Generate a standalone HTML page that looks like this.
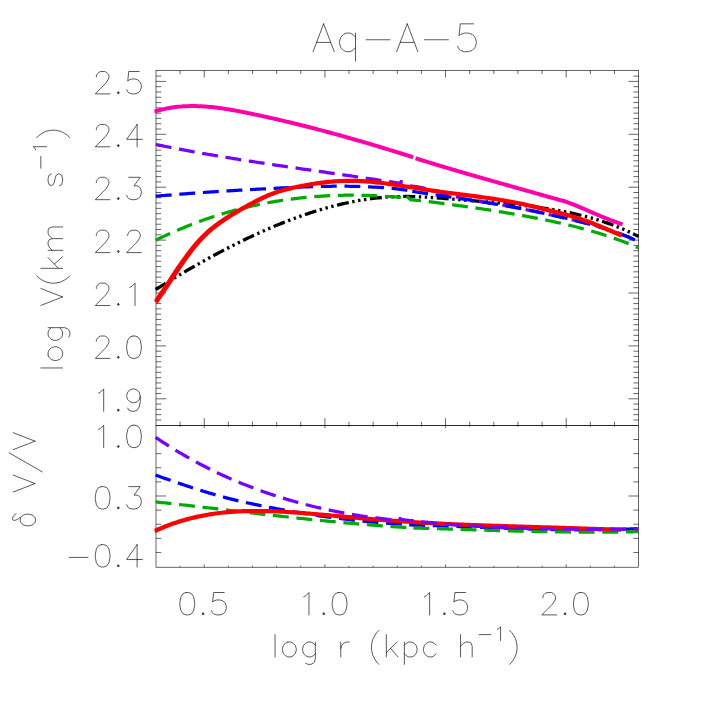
<!DOCTYPE html>
<html><head><meta charset="utf-8"><title>Aq-A-5</title>
<style>
html,body{margin:0;padding:0;background:#fff;}
body{width:709px;height:709px;overflow:hidden;font-family:"Liberation Sans",sans-serif;}
svg{display:block;}
</style></head><body>
<svg width="709" height="709" viewBox="0 0 709 709">
<rect width="709" height="709" fill="#fff"/>
<defs>
<clipPath id="ct"><rect x="154.4" y="70.45" width="484.80" height="354.85"/></clipPath>
<clipPath id="cb"><rect x="154.4" y="425.3" width="484.80" height="141.90"/></clipPath>
</defs>
<rect x="156.0" y="70.45" width="482.60" height="354.85" fill="none" stroke="#000" stroke-width="0.6"/>
<rect x="156.0" y="425.3" width="482.60" height="141.90" fill="none" stroke="#000" stroke-width="0.6"/>
<line x1="180.13" y1="70.45" x2="180.13" y2="74.00" stroke="#000" stroke-width="0.6"/>
<line x1="180.13" y1="425.30" x2="180.13" y2="421.75" stroke="#000" stroke-width="0.6"/>
<line x1="180.13" y1="425.30" x2="180.13" y2="426.75" stroke="#000" stroke-width="0.6"/>
<line x1="180.13" y1="567.20" x2="180.13" y2="565.75" stroke="#000" stroke-width="0.6"/>
<line x1="204.26" y1="70.45" x2="204.26" y2="77.55" stroke="#000" stroke-width="0.6"/>
<line x1="204.26" y1="425.30" x2="204.26" y2="418.20" stroke="#000" stroke-width="0.6"/>
<line x1="204.26" y1="425.30" x2="204.26" y2="428.15" stroke="#000" stroke-width="0.6"/>
<line x1="204.26" y1="567.20" x2="204.26" y2="564.35" stroke="#000" stroke-width="0.6"/>
<line x1="228.39" y1="70.45" x2="228.39" y2="74.00" stroke="#000" stroke-width="0.6"/>
<line x1="228.39" y1="425.30" x2="228.39" y2="421.75" stroke="#000" stroke-width="0.6"/>
<line x1="228.39" y1="425.30" x2="228.39" y2="426.75" stroke="#000" stroke-width="0.6"/>
<line x1="228.39" y1="567.20" x2="228.39" y2="565.75" stroke="#000" stroke-width="0.6"/>
<line x1="252.52" y1="70.45" x2="252.52" y2="74.00" stroke="#000" stroke-width="0.6"/>
<line x1="252.52" y1="425.30" x2="252.52" y2="421.75" stroke="#000" stroke-width="0.6"/>
<line x1="252.52" y1="425.30" x2="252.52" y2="426.75" stroke="#000" stroke-width="0.6"/>
<line x1="252.52" y1="567.20" x2="252.52" y2="565.75" stroke="#000" stroke-width="0.6"/>
<line x1="276.65" y1="70.45" x2="276.65" y2="74.00" stroke="#000" stroke-width="0.6"/>
<line x1="276.65" y1="425.30" x2="276.65" y2="421.75" stroke="#000" stroke-width="0.6"/>
<line x1="276.65" y1="425.30" x2="276.65" y2="426.75" stroke="#000" stroke-width="0.6"/>
<line x1="276.65" y1="567.20" x2="276.65" y2="565.75" stroke="#000" stroke-width="0.6"/>
<line x1="300.78" y1="70.45" x2="300.78" y2="74.00" stroke="#000" stroke-width="0.6"/>
<line x1="300.78" y1="425.30" x2="300.78" y2="421.75" stroke="#000" stroke-width="0.6"/>
<line x1="300.78" y1="425.30" x2="300.78" y2="426.75" stroke="#000" stroke-width="0.6"/>
<line x1="300.78" y1="567.20" x2="300.78" y2="565.75" stroke="#000" stroke-width="0.6"/>
<line x1="324.91" y1="70.45" x2="324.91" y2="77.55" stroke="#000" stroke-width="0.6"/>
<line x1="324.91" y1="425.30" x2="324.91" y2="418.20" stroke="#000" stroke-width="0.6"/>
<line x1="324.91" y1="425.30" x2="324.91" y2="428.15" stroke="#000" stroke-width="0.6"/>
<line x1="324.91" y1="567.20" x2="324.91" y2="564.35" stroke="#000" stroke-width="0.6"/>
<line x1="349.04" y1="70.45" x2="349.04" y2="74.00" stroke="#000" stroke-width="0.6"/>
<line x1="349.04" y1="425.30" x2="349.04" y2="421.75" stroke="#000" stroke-width="0.6"/>
<line x1="349.04" y1="425.30" x2="349.04" y2="426.75" stroke="#000" stroke-width="0.6"/>
<line x1="349.04" y1="567.20" x2="349.04" y2="565.75" stroke="#000" stroke-width="0.6"/>
<line x1="373.17" y1="70.45" x2="373.17" y2="74.00" stroke="#000" stroke-width="0.6"/>
<line x1="373.17" y1="425.30" x2="373.17" y2="421.75" stroke="#000" stroke-width="0.6"/>
<line x1="373.17" y1="425.30" x2="373.17" y2="426.75" stroke="#000" stroke-width="0.6"/>
<line x1="373.17" y1="567.20" x2="373.17" y2="565.75" stroke="#000" stroke-width="0.6"/>
<line x1="397.30" y1="70.45" x2="397.30" y2="74.00" stroke="#000" stroke-width="0.6"/>
<line x1="397.30" y1="425.30" x2="397.30" y2="421.75" stroke="#000" stroke-width="0.6"/>
<line x1="397.30" y1="425.30" x2="397.30" y2="426.75" stroke="#000" stroke-width="0.6"/>
<line x1="397.30" y1="567.20" x2="397.30" y2="565.75" stroke="#000" stroke-width="0.6"/>
<line x1="421.43" y1="70.45" x2="421.43" y2="74.00" stroke="#000" stroke-width="0.6"/>
<line x1="421.43" y1="425.30" x2="421.43" y2="421.75" stroke="#000" stroke-width="0.6"/>
<line x1="421.43" y1="425.30" x2="421.43" y2="426.75" stroke="#000" stroke-width="0.6"/>
<line x1="421.43" y1="567.20" x2="421.43" y2="565.75" stroke="#000" stroke-width="0.6"/>
<line x1="445.56" y1="70.45" x2="445.56" y2="77.55" stroke="#000" stroke-width="0.6"/>
<line x1="445.56" y1="425.30" x2="445.56" y2="418.20" stroke="#000" stroke-width="0.6"/>
<line x1="445.56" y1="425.30" x2="445.56" y2="428.15" stroke="#000" stroke-width="0.6"/>
<line x1="445.56" y1="567.20" x2="445.56" y2="564.35" stroke="#000" stroke-width="0.6"/>
<line x1="469.69" y1="70.45" x2="469.69" y2="74.00" stroke="#000" stroke-width="0.6"/>
<line x1="469.69" y1="425.30" x2="469.69" y2="421.75" stroke="#000" stroke-width="0.6"/>
<line x1="469.69" y1="425.30" x2="469.69" y2="426.75" stroke="#000" stroke-width="0.6"/>
<line x1="469.69" y1="567.20" x2="469.69" y2="565.75" stroke="#000" stroke-width="0.6"/>
<line x1="493.82" y1="70.45" x2="493.82" y2="74.00" stroke="#000" stroke-width="0.6"/>
<line x1="493.82" y1="425.30" x2="493.82" y2="421.75" stroke="#000" stroke-width="0.6"/>
<line x1="493.82" y1="425.30" x2="493.82" y2="426.75" stroke="#000" stroke-width="0.6"/>
<line x1="493.82" y1="567.20" x2="493.82" y2="565.75" stroke="#000" stroke-width="0.6"/>
<line x1="517.95" y1="70.45" x2="517.95" y2="74.00" stroke="#000" stroke-width="0.6"/>
<line x1="517.95" y1="425.30" x2="517.95" y2="421.75" stroke="#000" stroke-width="0.6"/>
<line x1="517.95" y1="425.30" x2="517.95" y2="426.75" stroke="#000" stroke-width="0.6"/>
<line x1="517.95" y1="567.20" x2="517.95" y2="565.75" stroke="#000" stroke-width="0.6"/>
<line x1="542.08" y1="70.45" x2="542.08" y2="74.00" stroke="#000" stroke-width="0.6"/>
<line x1="542.08" y1="425.30" x2="542.08" y2="421.75" stroke="#000" stroke-width="0.6"/>
<line x1="542.08" y1="425.30" x2="542.08" y2="426.75" stroke="#000" stroke-width="0.6"/>
<line x1="542.08" y1="567.20" x2="542.08" y2="565.75" stroke="#000" stroke-width="0.6"/>
<line x1="566.21" y1="70.45" x2="566.21" y2="77.55" stroke="#000" stroke-width="0.6"/>
<line x1="566.21" y1="425.30" x2="566.21" y2="418.20" stroke="#000" stroke-width="0.6"/>
<line x1="566.21" y1="425.30" x2="566.21" y2="428.15" stroke="#000" stroke-width="0.6"/>
<line x1="566.21" y1="567.20" x2="566.21" y2="564.35" stroke="#000" stroke-width="0.6"/>
<line x1="590.34" y1="70.45" x2="590.34" y2="74.00" stroke="#000" stroke-width="0.6"/>
<line x1="590.34" y1="425.30" x2="590.34" y2="421.75" stroke="#000" stroke-width="0.6"/>
<line x1="590.34" y1="425.30" x2="590.34" y2="426.75" stroke="#000" stroke-width="0.6"/>
<line x1="590.34" y1="567.20" x2="590.34" y2="565.75" stroke="#000" stroke-width="0.6"/>
<line x1="614.47" y1="70.45" x2="614.47" y2="74.00" stroke="#000" stroke-width="0.6"/>
<line x1="614.47" y1="425.30" x2="614.47" y2="421.75" stroke="#000" stroke-width="0.6"/>
<line x1="614.47" y1="425.30" x2="614.47" y2="426.75" stroke="#000" stroke-width="0.6"/>
<line x1="614.47" y1="567.20" x2="614.47" y2="565.75" stroke="#000" stroke-width="0.6"/>
<line x1="156.00" y1="419.96" x2="161.25" y2="419.96" stroke="#000" stroke-width="0.6"/>
<line x1="638.60" y1="419.96" x2="633.35" y2="419.96" stroke="#000" stroke-width="0.6"/>
<line x1="156.00" y1="414.67" x2="161.25" y2="414.67" stroke="#000" stroke-width="0.6"/>
<line x1="638.60" y1="414.67" x2="633.35" y2="414.67" stroke="#000" stroke-width="0.6"/>
<line x1="156.00" y1="409.38" x2="161.25" y2="409.38" stroke="#000" stroke-width="0.6"/>
<line x1="638.60" y1="409.38" x2="633.35" y2="409.38" stroke="#000" stroke-width="0.6"/>
<line x1="156.00" y1="404.09" x2="161.25" y2="404.09" stroke="#000" stroke-width="0.6"/>
<line x1="638.60" y1="404.09" x2="633.35" y2="404.09" stroke="#000" stroke-width="0.6"/>
<line x1="156.00" y1="398.80" x2="166.10" y2="398.80" stroke="#000" stroke-width="0.6"/>
<line x1="638.60" y1="398.80" x2="628.50" y2="398.80" stroke="#000" stroke-width="0.6"/>
<line x1="156.00" y1="393.51" x2="161.25" y2="393.51" stroke="#000" stroke-width="0.6"/>
<line x1="638.60" y1="393.51" x2="633.35" y2="393.51" stroke="#000" stroke-width="0.6"/>
<line x1="156.00" y1="388.22" x2="161.25" y2="388.22" stroke="#000" stroke-width="0.6"/>
<line x1="638.60" y1="388.22" x2="633.35" y2="388.22" stroke="#000" stroke-width="0.6"/>
<line x1="156.00" y1="382.93" x2="161.25" y2="382.93" stroke="#000" stroke-width="0.6"/>
<line x1="638.60" y1="382.93" x2="633.35" y2="382.93" stroke="#000" stroke-width="0.6"/>
<line x1="156.00" y1="377.64" x2="161.25" y2="377.64" stroke="#000" stroke-width="0.6"/>
<line x1="638.60" y1="377.64" x2="633.35" y2="377.64" stroke="#000" stroke-width="0.6"/>
<line x1="156.00" y1="372.35" x2="161.25" y2="372.35" stroke="#000" stroke-width="0.6"/>
<line x1="638.60" y1="372.35" x2="633.35" y2="372.35" stroke="#000" stroke-width="0.6"/>
<line x1="156.00" y1="367.06" x2="161.25" y2="367.06" stroke="#000" stroke-width="0.6"/>
<line x1="638.60" y1="367.06" x2="633.35" y2="367.06" stroke="#000" stroke-width="0.6"/>
<line x1="156.00" y1="361.77" x2="161.25" y2="361.77" stroke="#000" stroke-width="0.6"/>
<line x1="638.60" y1="361.77" x2="633.35" y2="361.77" stroke="#000" stroke-width="0.6"/>
<line x1="156.00" y1="356.48" x2="161.25" y2="356.48" stroke="#000" stroke-width="0.6"/>
<line x1="638.60" y1="356.48" x2="633.35" y2="356.48" stroke="#000" stroke-width="0.6"/>
<line x1="156.00" y1="351.19" x2="161.25" y2="351.19" stroke="#000" stroke-width="0.6"/>
<line x1="638.60" y1="351.19" x2="633.35" y2="351.19" stroke="#000" stroke-width="0.6"/>
<line x1="156.00" y1="345.90" x2="166.10" y2="345.90" stroke="#000" stroke-width="0.6"/>
<line x1="638.60" y1="345.90" x2="628.50" y2="345.90" stroke="#000" stroke-width="0.6"/>
<line x1="156.00" y1="340.61" x2="161.25" y2="340.61" stroke="#000" stroke-width="0.6"/>
<line x1="638.60" y1="340.61" x2="633.35" y2="340.61" stroke="#000" stroke-width="0.6"/>
<line x1="156.00" y1="335.32" x2="161.25" y2="335.32" stroke="#000" stroke-width="0.6"/>
<line x1="638.60" y1="335.32" x2="633.35" y2="335.32" stroke="#000" stroke-width="0.6"/>
<line x1="156.00" y1="330.03" x2="161.25" y2="330.03" stroke="#000" stroke-width="0.6"/>
<line x1="638.60" y1="330.03" x2="633.35" y2="330.03" stroke="#000" stroke-width="0.6"/>
<line x1="156.00" y1="324.74" x2="161.25" y2="324.74" stroke="#000" stroke-width="0.6"/>
<line x1="638.60" y1="324.74" x2="633.35" y2="324.74" stroke="#000" stroke-width="0.6"/>
<line x1="156.00" y1="319.45" x2="161.25" y2="319.45" stroke="#000" stroke-width="0.6"/>
<line x1="638.60" y1="319.45" x2="633.35" y2="319.45" stroke="#000" stroke-width="0.6"/>
<line x1="156.00" y1="314.16" x2="161.25" y2="314.16" stroke="#000" stroke-width="0.6"/>
<line x1="638.60" y1="314.16" x2="633.35" y2="314.16" stroke="#000" stroke-width="0.6"/>
<line x1="156.00" y1="308.87" x2="161.25" y2="308.87" stroke="#000" stroke-width="0.6"/>
<line x1="638.60" y1="308.87" x2="633.35" y2="308.87" stroke="#000" stroke-width="0.6"/>
<line x1="156.00" y1="303.58" x2="161.25" y2="303.58" stroke="#000" stroke-width="0.6"/>
<line x1="638.60" y1="303.58" x2="633.35" y2="303.58" stroke="#000" stroke-width="0.6"/>
<line x1="156.00" y1="298.29" x2="161.25" y2="298.29" stroke="#000" stroke-width="0.6"/>
<line x1="638.60" y1="298.29" x2="633.35" y2="298.29" stroke="#000" stroke-width="0.6"/>
<line x1="156.00" y1="293.00" x2="166.10" y2="293.00" stroke="#000" stroke-width="0.6"/>
<line x1="638.60" y1="293.00" x2="628.50" y2="293.00" stroke="#000" stroke-width="0.6"/>
<line x1="156.00" y1="287.71" x2="161.25" y2="287.71" stroke="#000" stroke-width="0.6"/>
<line x1="638.60" y1="287.71" x2="633.35" y2="287.71" stroke="#000" stroke-width="0.6"/>
<line x1="156.00" y1="282.42" x2="161.25" y2="282.42" stroke="#000" stroke-width="0.6"/>
<line x1="638.60" y1="282.42" x2="633.35" y2="282.42" stroke="#000" stroke-width="0.6"/>
<line x1="156.00" y1="277.13" x2="161.25" y2="277.13" stroke="#000" stroke-width="0.6"/>
<line x1="638.60" y1="277.13" x2="633.35" y2="277.13" stroke="#000" stroke-width="0.6"/>
<line x1="156.00" y1="271.84" x2="161.25" y2="271.84" stroke="#000" stroke-width="0.6"/>
<line x1="638.60" y1="271.84" x2="633.35" y2="271.84" stroke="#000" stroke-width="0.6"/>
<line x1="156.00" y1="266.55" x2="161.25" y2="266.55" stroke="#000" stroke-width="0.6"/>
<line x1="638.60" y1="266.55" x2="633.35" y2="266.55" stroke="#000" stroke-width="0.6"/>
<line x1="156.00" y1="261.26" x2="161.25" y2="261.26" stroke="#000" stroke-width="0.6"/>
<line x1="638.60" y1="261.26" x2="633.35" y2="261.26" stroke="#000" stroke-width="0.6"/>
<line x1="156.00" y1="255.97" x2="161.25" y2="255.97" stroke="#000" stroke-width="0.6"/>
<line x1="638.60" y1="255.97" x2="633.35" y2="255.97" stroke="#000" stroke-width="0.6"/>
<line x1="156.00" y1="250.68" x2="161.25" y2="250.68" stroke="#000" stroke-width="0.6"/>
<line x1="638.60" y1="250.68" x2="633.35" y2="250.68" stroke="#000" stroke-width="0.6"/>
<line x1="156.00" y1="245.39" x2="161.25" y2="245.39" stroke="#000" stroke-width="0.6"/>
<line x1="638.60" y1="245.39" x2="633.35" y2="245.39" stroke="#000" stroke-width="0.6"/>
<line x1="156.00" y1="240.10" x2="166.10" y2="240.10" stroke="#000" stroke-width="0.6"/>
<line x1="638.60" y1="240.10" x2="628.50" y2="240.10" stroke="#000" stroke-width="0.6"/>
<line x1="156.00" y1="234.81" x2="161.25" y2="234.81" stroke="#000" stroke-width="0.6"/>
<line x1="638.60" y1="234.81" x2="633.35" y2="234.81" stroke="#000" stroke-width="0.6"/>
<line x1="156.00" y1="229.52" x2="161.25" y2="229.52" stroke="#000" stroke-width="0.6"/>
<line x1="638.60" y1="229.52" x2="633.35" y2="229.52" stroke="#000" stroke-width="0.6"/>
<line x1="156.00" y1="224.23" x2="161.25" y2="224.23" stroke="#000" stroke-width="0.6"/>
<line x1="638.60" y1="224.23" x2="633.35" y2="224.23" stroke="#000" stroke-width="0.6"/>
<line x1="156.00" y1="218.94" x2="161.25" y2="218.94" stroke="#000" stroke-width="0.6"/>
<line x1="638.60" y1="218.94" x2="633.35" y2="218.94" stroke="#000" stroke-width="0.6"/>
<line x1="156.00" y1="213.65" x2="161.25" y2="213.65" stroke="#000" stroke-width="0.6"/>
<line x1="638.60" y1="213.65" x2="633.35" y2="213.65" stroke="#000" stroke-width="0.6"/>
<line x1="156.00" y1="208.36" x2="161.25" y2="208.36" stroke="#000" stroke-width="0.6"/>
<line x1="638.60" y1="208.36" x2="633.35" y2="208.36" stroke="#000" stroke-width="0.6"/>
<line x1="156.00" y1="203.07" x2="161.25" y2="203.07" stroke="#000" stroke-width="0.6"/>
<line x1="638.60" y1="203.07" x2="633.35" y2="203.07" stroke="#000" stroke-width="0.6"/>
<line x1="156.00" y1="197.78" x2="161.25" y2="197.78" stroke="#000" stroke-width="0.6"/>
<line x1="638.60" y1="197.78" x2="633.35" y2="197.78" stroke="#000" stroke-width="0.6"/>
<line x1="156.00" y1="192.49" x2="161.25" y2="192.49" stroke="#000" stroke-width="0.6"/>
<line x1="638.60" y1="192.49" x2="633.35" y2="192.49" stroke="#000" stroke-width="0.6"/>
<line x1="156.00" y1="187.20" x2="166.10" y2="187.20" stroke="#000" stroke-width="0.6"/>
<line x1="638.60" y1="187.20" x2="628.50" y2="187.20" stroke="#000" stroke-width="0.6"/>
<line x1="156.00" y1="181.91" x2="161.25" y2="181.91" stroke="#000" stroke-width="0.6"/>
<line x1="638.60" y1="181.91" x2="633.35" y2="181.91" stroke="#000" stroke-width="0.6"/>
<line x1="156.00" y1="176.62" x2="161.25" y2="176.62" stroke="#000" stroke-width="0.6"/>
<line x1="638.60" y1="176.62" x2="633.35" y2="176.62" stroke="#000" stroke-width="0.6"/>
<line x1="156.00" y1="171.33" x2="161.25" y2="171.33" stroke="#000" stroke-width="0.6"/>
<line x1="638.60" y1="171.33" x2="633.35" y2="171.33" stroke="#000" stroke-width="0.6"/>
<line x1="156.00" y1="166.04" x2="161.25" y2="166.04" stroke="#000" stroke-width="0.6"/>
<line x1="638.60" y1="166.04" x2="633.35" y2="166.04" stroke="#000" stroke-width="0.6"/>
<line x1="156.00" y1="160.75" x2="161.25" y2="160.75" stroke="#000" stroke-width="0.6"/>
<line x1="638.60" y1="160.75" x2="633.35" y2="160.75" stroke="#000" stroke-width="0.6"/>
<line x1="156.00" y1="155.46" x2="161.25" y2="155.46" stroke="#000" stroke-width="0.6"/>
<line x1="638.60" y1="155.46" x2="633.35" y2="155.46" stroke="#000" stroke-width="0.6"/>
<line x1="156.00" y1="150.17" x2="161.25" y2="150.17" stroke="#000" stroke-width="0.6"/>
<line x1="638.60" y1="150.17" x2="633.35" y2="150.17" stroke="#000" stroke-width="0.6"/>
<line x1="156.00" y1="144.88" x2="161.25" y2="144.88" stroke="#000" stroke-width="0.6"/>
<line x1="638.60" y1="144.88" x2="633.35" y2="144.88" stroke="#000" stroke-width="0.6"/>
<line x1="156.00" y1="139.59" x2="161.25" y2="139.59" stroke="#000" stroke-width="0.6"/>
<line x1="638.60" y1="139.59" x2="633.35" y2="139.59" stroke="#000" stroke-width="0.6"/>
<line x1="156.00" y1="134.30" x2="166.10" y2="134.30" stroke="#000" stroke-width="0.6"/>
<line x1="638.60" y1="134.30" x2="628.50" y2="134.30" stroke="#000" stroke-width="0.6"/>
<line x1="156.00" y1="129.01" x2="161.25" y2="129.01" stroke="#000" stroke-width="0.6"/>
<line x1="638.60" y1="129.01" x2="633.35" y2="129.01" stroke="#000" stroke-width="0.6"/>
<line x1="156.00" y1="123.72" x2="161.25" y2="123.72" stroke="#000" stroke-width="0.6"/>
<line x1="638.60" y1="123.72" x2="633.35" y2="123.72" stroke="#000" stroke-width="0.6"/>
<line x1="156.00" y1="118.43" x2="161.25" y2="118.43" stroke="#000" stroke-width="0.6"/>
<line x1="638.60" y1="118.43" x2="633.35" y2="118.43" stroke="#000" stroke-width="0.6"/>
<line x1="156.00" y1="113.14" x2="161.25" y2="113.14" stroke="#000" stroke-width="0.6"/>
<line x1="638.60" y1="113.14" x2="633.35" y2="113.14" stroke="#000" stroke-width="0.6"/>
<line x1="156.00" y1="107.85" x2="161.25" y2="107.85" stroke="#000" stroke-width="0.6"/>
<line x1="638.60" y1="107.85" x2="633.35" y2="107.85" stroke="#000" stroke-width="0.6"/>
<line x1="156.00" y1="102.56" x2="161.25" y2="102.56" stroke="#000" stroke-width="0.6"/>
<line x1="638.60" y1="102.56" x2="633.35" y2="102.56" stroke="#000" stroke-width="0.6"/>
<line x1="156.00" y1="97.27" x2="161.25" y2="97.27" stroke="#000" stroke-width="0.6"/>
<line x1="638.60" y1="97.27" x2="633.35" y2="97.27" stroke="#000" stroke-width="0.6"/>
<line x1="156.00" y1="91.98" x2="161.25" y2="91.98" stroke="#000" stroke-width="0.6"/>
<line x1="638.60" y1="91.98" x2="633.35" y2="91.98" stroke="#000" stroke-width="0.6"/>
<line x1="156.00" y1="86.69" x2="161.25" y2="86.69" stroke="#000" stroke-width="0.6"/>
<line x1="638.60" y1="86.69" x2="633.35" y2="86.69" stroke="#000" stroke-width="0.6"/>
<line x1="156.00" y1="81.40" x2="166.10" y2="81.40" stroke="#000" stroke-width="0.6"/>
<line x1="638.60" y1="81.40" x2="628.50" y2="81.40" stroke="#000" stroke-width="0.6"/>
<line x1="156.00" y1="76.11" x2="161.25" y2="76.11" stroke="#000" stroke-width="0.6"/>
<line x1="638.60" y1="76.11" x2="633.35" y2="76.11" stroke="#000" stroke-width="0.6"/>
<line x1="156.00" y1="439.52" x2="161.25" y2="439.52" stroke="#000" stroke-width="0.6"/>
<line x1="638.60" y1="439.52" x2="633.35" y2="439.52" stroke="#000" stroke-width="0.6"/>
<line x1="156.00" y1="453.64" x2="161.25" y2="453.64" stroke="#000" stroke-width="0.6"/>
<line x1="638.60" y1="453.64" x2="633.35" y2="453.64" stroke="#000" stroke-width="0.6"/>
<line x1="156.00" y1="467.76" x2="161.25" y2="467.76" stroke="#000" stroke-width="0.6"/>
<line x1="638.60" y1="467.76" x2="633.35" y2="467.76" stroke="#000" stroke-width="0.6"/>
<line x1="156.00" y1="481.88" x2="161.25" y2="481.88" stroke="#000" stroke-width="0.6"/>
<line x1="638.60" y1="481.88" x2="633.35" y2="481.88" stroke="#000" stroke-width="0.6"/>
<line x1="156.00" y1="496.00" x2="166.10" y2="496.00" stroke="#000" stroke-width="0.6"/>
<line x1="638.60" y1="496.00" x2="628.50" y2="496.00" stroke="#000" stroke-width="0.6"/>
<line x1="156.00" y1="510.12" x2="161.25" y2="510.12" stroke="#000" stroke-width="0.6"/>
<line x1="638.60" y1="510.12" x2="633.35" y2="510.12" stroke="#000" stroke-width="0.6"/>
<line x1="156.00" y1="524.24" x2="161.25" y2="524.24" stroke="#000" stroke-width="0.6"/>
<line x1="638.60" y1="524.24" x2="633.35" y2="524.24" stroke="#000" stroke-width="0.6"/>
<line x1="156.00" y1="538.36" x2="161.25" y2="538.36" stroke="#000" stroke-width="0.6"/>
<line x1="638.60" y1="538.36" x2="633.35" y2="538.36" stroke="#000" stroke-width="0.6"/>
<line x1="156.00" y1="552.48" x2="161.25" y2="552.48" stroke="#000" stroke-width="0.6"/>
<line x1="638.60" y1="552.48" x2="633.35" y2="552.48" stroke="#000" stroke-width="0.6"/>
<circle cx="118.31" cy="92.83" r="0.89" fill="#000" fill-opacity="0.7"/>
<path d="M96.37,76.84 L96.37,75.78 L97.41,73.65 L98.46,72.58 L100.55,71.51 L104.73,71.51 L106.82,72.58 L107.86,73.65 L108.91,75.78 L108.91,77.91 L107.86,80.04 L105.77,83.24 L95.32,93.90 L109.95,93.90 M118.31,91.77 L117.27,92.83 L118.31,93.90 L119.36,92.83 L118.31,91.77 M139.21,71.51 L128.76,71.51 L127.72,81.11 L128.76,80.04 L131.90,78.98 L135.03,78.98 L138.17,80.04 L140.26,82.17 L141.30,85.37 L141.30,87.50 L140.26,90.70 L138.17,92.83 L135.03,93.90 L131.90,93.90 L128.76,92.83 L127.72,91.77 L126.67,89.64" fill="none" stroke="#000" stroke-width="0.65" stroke-linecap="round" stroke-linejoin="round"/>
<circle cx="118.31" cy="145.73" r="0.89" fill="#000" fill-opacity="0.7"/>
<path d="M96.37,129.74 L96.37,128.68 L97.41,126.55 L98.46,125.48 L100.55,124.41 L104.73,124.41 L106.82,125.48 L107.86,126.55 L108.91,128.68 L108.91,130.81 L107.86,132.94 L105.77,136.14 L95.32,146.80 L109.95,146.80 M118.31,144.67 L117.27,145.73 L118.31,146.80 L119.36,145.73 L118.31,144.67 M137.12,124.41 L126.67,139.34 L142.35,139.34 M137.12,124.41 L137.12,146.80" fill="none" stroke="#000" stroke-width="0.65" stroke-linecap="round" stroke-linejoin="round"/>
<circle cx="118.31" cy="198.63" r="0.89" fill="#000" fill-opacity="0.7"/>
<path d="M96.37,182.64 L96.37,181.58 L97.41,179.45 L98.46,178.38 L100.55,177.31 L104.73,177.31 L106.82,178.38 L107.86,179.45 L108.91,181.58 L108.91,183.71 L107.86,185.84 L105.77,189.04 L95.32,199.70 L109.95,199.70 M118.31,197.57 L117.27,198.63 L118.31,199.70 L119.36,198.63 L118.31,197.57 M128.76,177.31 L140.26,177.31 L133.99,185.84 L137.12,185.84 L139.21,186.91 L140.26,187.97 L141.30,191.17 L141.30,193.30 L140.26,196.50 L138.17,198.63 L135.03,199.70 L131.90,199.70 L128.76,198.63 L127.72,197.57 L126.67,195.44" fill="none" stroke="#000" stroke-width="0.65" stroke-linecap="round" stroke-linejoin="round"/>
<circle cx="118.31" cy="251.53" r="0.89" fill="#000" fill-opacity="0.7"/>
<path d="M96.37,235.54 L96.37,234.48 L97.41,232.35 L98.46,231.28 L100.55,230.21 L104.73,230.21 L106.82,231.28 L107.86,232.35 L108.91,234.48 L108.91,236.61 L107.86,238.74 L105.77,241.94 L95.32,252.60 L109.95,252.60 M118.31,250.47 L117.27,251.53 L118.31,252.60 L119.36,251.53 L118.31,250.47 M127.72,235.54 L127.72,234.48 L128.76,232.35 L129.81,231.28 L131.90,230.21 L136.08,230.21 L138.17,231.28 L139.21,232.35 L140.26,234.48 L140.26,236.61 L139.21,238.74 L137.12,241.94 L126.67,252.60 L141.30,252.60" fill="none" stroke="#000" stroke-width="0.65" stroke-linecap="round" stroke-linejoin="round"/>
<circle cx="118.31" cy="304.43" r="0.89" fill="#000" fill-opacity="0.7"/>
<path d="M96.37,288.44 L96.37,287.38 L97.41,285.25 L98.46,284.18 L100.55,283.11 L104.73,283.11 L106.82,284.18 L107.86,285.25 L108.91,287.38 L108.91,289.51 L107.86,291.64 L105.77,294.84 L95.32,305.50 L109.95,305.50 M118.31,303.37 L117.27,304.43 L118.31,305.50 L119.36,304.43 L118.31,303.37 M129.81,287.38 L131.90,286.31 L135.03,283.11 L135.03,305.50" fill="none" stroke="#000" stroke-width="0.65" stroke-linecap="round" stroke-linejoin="round"/>
<circle cx="118.31" cy="357.33" r="0.89" fill="#000" fill-opacity="0.7"/>
<path d="M96.37,341.34 L96.37,340.28 L97.41,338.15 L98.46,337.08 L100.55,336.01 L104.73,336.01 L106.82,337.08 L107.86,338.15 L108.91,340.28 L108.91,342.41 L107.86,344.54 L105.77,347.74 L95.32,358.40 L109.95,358.40 M118.31,356.27 L117.27,357.33 L118.31,358.40 L119.36,357.33 L118.31,356.27 M132.94,336.01 L129.81,337.08 L127.72,340.28 L126.67,345.61 L126.67,348.81 L127.72,354.14 L129.81,357.33 L132.94,358.40 L135.03,358.40 L138.17,357.33 L140.26,354.14 L141.30,348.81 L141.30,345.61 L140.26,340.28 L138.17,337.08 L135.03,336.01 L132.94,336.01" fill="none" stroke="#000" stroke-width="0.65" stroke-linecap="round" stroke-linejoin="round"/>
<circle cx="118.31" cy="410.23" r="0.89" fill="#000" fill-opacity="0.7"/>
<path d="M98.46,393.18 L100.55,392.11 L103.68,388.91 L103.68,411.30 M118.31,409.17 L117.27,410.23 L118.31,411.30 L119.36,410.23 L118.31,409.17 M140.26,396.38 L139.21,399.57 L137.12,401.71 L133.99,402.77 L132.94,402.77 L129.81,401.71 L127.72,399.57 L126.67,396.38 L126.67,395.31 L127.72,392.11 L129.81,389.98 L132.94,388.91 L133.99,388.91 L137.12,389.98 L139.21,392.11 L140.26,396.38 L140.26,401.71 L139.21,407.04 L137.12,410.23 L133.99,411.30 L131.90,411.30 L128.76,410.23 L127.72,408.10" fill="none" stroke="#000" stroke-width="0.65" stroke-linecap="round" stroke-linejoin="round"/>
<circle cx="118.31" cy="446.53" r="0.89" fill="#000" fill-opacity="0.7"/>
<path d="M98.46,429.48 L100.55,428.41 L103.68,425.21 L103.68,447.60 M118.31,445.47 L117.27,446.53 L118.31,447.60 L119.36,446.53 L118.31,445.47 M132.94,425.21 L129.81,426.28 L127.72,429.48 L126.67,434.81 L126.67,438.01 L127.72,443.34 L129.81,446.53 L132.94,447.60 L135.03,447.60 L138.17,446.53 L140.26,443.34 L141.30,438.01 L141.30,434.81 L140.26,429.48 L138.17,426.28 L135.03,425.21 L132.94,425.21" fill="none" stroke="#000" stroke-width="0.65" stroke-linecap="round" stroke-linejoin="round"/>
<circle cx="118.31" cy="507.93" r="0.89" fill="#000" fill-opacity="0.7"/>
<path d="M101.59,486.61 L98.46,487.68 L96.37,490.88 L95.32,496.21 L95.32,499.41 L96.37,504.74 L98.46,507.93 L101.59,509.00 L103.68,509.00 L106.82,507.93 L108.91,504.74 L109.95,499.41 L109.95,496.21 L108.91,490.88 L106.82,487.68 L103.68,486.61 L101.59,486.61 M118.31,506.87 L117.27,507.93 L118.31,509.00 L119.36,507.93 L118.31,506.87 M128.76,486.61 L140.26,486.61 L133.99,495.14 L137.12,495.14 L139.21,496.21 L140.26,497.27 L141.30,500.47 L141.30,502.60 L140.26,505.80 L138.17,507.93 L135.03,509.00 L131.90,509.00 L128.76,507.93 L127.72,506.87 L126.67,504.74" fill="none" stroke="#000" stroke-width="0.65" stroke-linecap="round" stroke-linejoin="round"/>
<circle cx="118.31" cy="565.93" r="0.89" fill="#000" fill-opacity="0.7"/>
<path d="M69.20,557.41 L88.01,557.41 M101.59,544.61 L98.46,545.68 L96.37,548.88 L95.32,554.21 L95.32,557.41 L96.37,562.74 L98.46,565.93 L101.59,567.00 L103.68,567.00 L106.82,565.93 L108.91,562.74 L109.95,557.41 L109.95,554.21 L108.91,548.88 L106.82,545.68 L103.68,544.61 L101.59,544.61 M118.31,564.87 L117.27,565.93 L118.31,567.00 L119.36,565.93 L118.31,564.87 M137.12,544.61 L126.67,559.54 L142.35,559.54 M137.12,544.61 L137.12,567.00" fill="none" stroke="#000" stroke-width="0.65" stroke-linecap="round" stroke-linejoin="round"/>
<circle cx="203.10" cy="613.83" r="0.90" fill="#000" fill-opacity="0.7"/>
<path d="M186.22,592.51 L183.06,593.58 L180.95,596.78 L179.89,602.11 L179.89,605.31 L180.95,610.64 L183.06,613.83 L186.22,614.90 L188.33,614.90 L191.50,613.83 L193.61,610.64 L194.66,605.31 L194.66,602.11 L193.61,596.78 L191.50,593.58 L188.33,592.51 L186.22,592.51 M203.10,612.77 L202.05,613.83 L203.10,614.90 L204.16,613.83 L203.10,612.77 M224.20,592.51 L213.65,592.51 L212.60,602.11 L213.65,601.04 L216.82,599.98 L219.98,599.98 L223.15,601.04 L225.26,603.17 L226.31,606.37 L226.31,608.50 L225.26,611.70 L223.15,613.83 L219.98,614.90 L216.82,614.90 L213.65,613.83 L212.60,612.77 L211.54,610.64" fill="none" stroke="#000" stroke-width="0.65" stroke-linecap="round" stroke-linejoin="round"/>
<circle cx="323.75" cy="613.83" r="0.90" fill="#000" fill-opacity="0.7"/>
<path d="M303.70,596.78 L305.81,595.71 L308.98,592.51 L308.98,614.90 M323.75,612.77 L322.69,613.83 L323.75,614.90 L324.81,613.83 L323.75,612.77 M338.52,592.51 L335.36,593.58 L333.25,596.78 L332.19,602.11 L332.19,605.31 L333.25,610.64 L335.36,613.83 L338.52,614.90 L340.63,614.90 L343.80,613.83 L345.90,610.64 L346.96,605.31 L346.96,602.11 L345.90,596.78 L343.80,593.58 L340.63,592.51 L338.52,592.51" fill="none" stroke="#000" stroke-width="0.65" stroke-linecap="round" stroke-linejoin="round"/>
<circle cx="444.40" cy="613.83" r="0.90" fill="#000" fill-opacity="0.7"/>
<path d="M424.36,596.78 L426.47,595.71 L429.63,592.51 L429.63,614.90 M444.40,612.77 L443.35,613.83 L444.40,614.90 L445.46,613.83 L444.40,612.77 M465.50,592.51 L454.95,592.51 L453.90,602.11 L454.95,601.04 L458.12,599.98 L461.28,599.98 L464.45,601.04 L466.56,603.17 L467.61,606.37 L467.61,608.50 L466.56,611.70 L464.45,613.83 L461.28,614.90 L458.12,614.90 L454.95,613.83 L453.90,612.77 L452.84,610.64" fill="none" stroke="#000" stroke-width="0.65" stroke-linecap="round" stroke-linejoin="round"/>
<circle cx="565.05" cy="613.83" r="0.90" fill="#000" fill-opacity="0.7"/>
<path d="M542.89,597.84 L542.89,596.78 L543.95,594.65 L545.00,593.58 L547.12,592.51 L551.33,592.51 L553.44,593.58 L554.50,594.65 L555.55,596.78 L555.55,598.91 L554.50,601.04 L552.39,604.24 L541.84,614.90 L556.61,614.90 M565.05,612.77 L564.00,613.83 L565.05,614.90 L566.10,613.83 L565.05,612.77 M579.82,592.51 L576.65,593.58 L574.54,596.78 L573.49,602.11 L573.49,605.31 L574.54,610.64 L576.65,613.83 L579.82,614.90 L581.93,614.90 L585.09,613.83 L587.20,610.64 L588.26,605.31 L588.26,602.11 L587.20,596.78 L585.09,593.58 L581.93,592.51 L579.82,592.51" fill="none" stroke="#000" stroke-width="0.65" stroke-linecap="round" stroke-linejoin="round"/>
<path d="M323.64,23.83 L313.03,51.70 M323.64,23.83 L334.26,51.70 M317.01,42.41 L330.28,42.41 M355.49,33.12 L355.49,60.99 M355.49,37.10 L352.84,34.45 L350.18,33.12 L346.20,33.12 L343.55,34.45 L340.89,37.10 L339.57,41.08 L339.57,43.74 L340.89,47.72 L343.55,50.37 L346.20,51.70 L350.18,51.70 L352.84,50.37 L355.49,47.72 M366.11,39.76 L389.99,39.76 M407.24,23.83 L396.63,51.70 M407.24,23.83 L417.86,51.70 M400.61,42.41 L413.88,42.41 M424.50,39.76 L448.38,39.76 M473.59,23.83 L460.32,23.83 L459.00,35.78 L460.32,34.45 L464.30,33.12 L468.29,33.12 L472.27,34.45 L474.92,37.10 L476.25,41.08 L476.25,43.74 L474.92,47.72 L472.27,50.37 L468.29,51.70 L464.30,51.70 L460.32,50.37 L459.00,49.05 L457.67,46.39" fill="none" stroke="#000" stroke-width="0.65" stroke-linecap="round" stroke-linejoin="round"/>
<path d="M275.04,634.64 L275.04,656.90 M287.76,642.06 L285.64,643.12 L283.52,645.24 L282.46,648.42 L282.46,650.54 L283.52,653.72 L285.64,655.84 L287.76,656.90 L290.94,656.90 L293.06,655.84 L295.18,653.72 L296.24,650.54 L296.24,648.42 L295.18,645.24 L293.06,643.12 L290.94,642.06 L287.76,642.06 M315.32,642.06 L315.32,659.02 L314.26,662.20 L313.20,663.26 L311.08,664.32 L307.90,664.32 L305.78,663.26 M315.32,645.24 L313.20,643.12 L311.08,642.06 L307.90,642.06 L305.78,643.12 L303.66,645.24 L302.60,648.42 L302.60,650.54 L303.66,653.72 L305.78,655.84 L307.90,656.90 L311.08,656.90 L313.20,655.84 L315.32,653.72 M340.76,642.06 L340.76,656.90 M340.76,648.42 L341.82,645.24 L343.94,643.12 L346.06,642.06 L349.24,642.06 M378.92,630.40 L376.80,632.52 L374.68,635.70 L372.56,639.94 L371.50,645.24 L371.50,649.48 L372.56,654.78 L374.68,659.02 L376.80,662.20 L378.92,664.32 M386.34,634.64 L386.34,656.90 M396.94,642.06 L386.34,652.66 M390.58,648.42 L398.00,656.90 M404.36,642.06 L404.36,664.32 M404.36,645.24 L406.48,643.12 L408.60,642.06 L411.78,642.06 L413.90,643.12 L416.02,645.24 L417.08,648.42 L417.08,650.54 L416.02,653.72 L413.90,655.84 L411.78,656.90 L408.60,656.90 L406.48,655.84 L404.36,653.72 M436.16,645.24 L434.04,643.12 L431.92,642.06 L428.74,642.06 L426.62,643.12 L424.50,645.24 L423.44,648.42 L423.44,650.54 L424.50,653.72 L426.62,655.84 L428.74,656.90 L431.92,656.90 L434.04,655.84 L436.16,653.72 M460.54,634.64 L460.54,656.90 M460.54,646.30 L463.72,643.12 L465.84,642.06 L469.02,642.06 L471.14,643.12 L472.20,646.30 L472.20,656.90 M479.05,634.60 L490.78,634.60 M497.30,629.39 L498.60,628.74 L500.56,626.78 L500.56,640.47 M509.61,630.40 L511.73,632.52 L513.85,635.70 L515.97,639.94 L517.03,645.24 L517.03,649.48 L515.97,654.78 L513.85,659.02 L511.73,662.20 L509.61,664.32" fill="none" stroke="#000" stroke-width="0.65" stroke-linecap="round" stroke-linejoin="round"/>
<path d="M40.87,367.96 L62.60,367.96 M48.11,355.24 L49.15,357.36 L51.22,359.48 L54.32,360.54 L56.39,360.54 L59.50,359.48 L61.57,357.36 L62.60,355.24 L62.60,352.06 L61.57,349.94 L59.50,347.82 L56.39,346.76 L54.32,346.76 L51.22,347.82 L49.15,349.94 L48.11,352.06 L48.11,355.24 M48.11,327.68 L64.67,327.68 L67.78,328.74 L68.81,329.80 L69.84,331.92 L69.84,335.10 L68.81,337.22 M51.22,327.68 L49.15,329.80 L48.11,331.92 L48.11,335.10 L49.15,337.22 L51.22,339.34 L54.32,340.40 L56.39,340.40 L59.50,339.34 L61.57,337.22 L62.60,335.10 L62.60,331.92 L61.57,329.80 L59.50,327.68 M40.87,305.42 L62.60,296.94 M40.87,288.46 L62.60,296.94 M36.73,275.74 L38.80,277.86 L41.90,279.98 L46.04,282.10 L51.22,283.16 L55.36,283.16 L60.53,282.10 L64.67,279.98 L67.78,277.86 L69.85,275.74 M40.87,268.32 L62.60,268.32 M48.11,257.72 L58.46,268.32 M54.32,264.08 L62.60,256.66 M48.11,250.30 L62.60,250.30 M52.25,250.30 L49.15,247.12 L48.11,245.00 L48.11,241.82 L49.15,239.70 L52.25,238.64 L62.60,238.64 M52.25,238.64 L49.15,235.46 L48.11,233.34 L48.11,230.16 L49.15,228.04 L52.25,226.98 L62.60,226.98 M51.22,173.98 L49.15,175.04 L48.11,178.22 L48.11,181.40 L49.15,184.58 L51.22,185.64 L53.29,184.58 L54.32,182.46 L55.36,177.16 L56.39,175.04 L58.46,173.98 L59.50,173.98 L61.57,175.04 L62.60,178.22 L62.60,181.40 L61.57,184.58 L59.50,185.64 M40.83,168.19 L40.83,156.46 M35.74,149.94 L35.10,148.64 L33.19,146.68 L46.56,146.68 M36.73,137.63 L38.80,135.51 L41.90,133.39 L46.04,131.27 L51.22,130.21 L55.36,130.21 L60.53,131.27 L64.67,133.39 L67.78,135.51 L69.85,137.63" fill="none" stroke="#000" stroke-width="0.65" stroke-linecap="round" stroke-linejoin="round"/>
<path d="M13.27,492.04 L35.00,483.56 M13.27,475.08 L35.00,483.56 M9.13,452.82 L42.24,471.90 M13.27,449.64 L35.00,441.16 M13.27,432.68 L35.00,441.16" fill="none" stroke="#000" stroke-width="0.65" stroke-linecap="round" stroke-linejoin="round"/>
<ellipse cx="27.85" cy="520.0" rx="7.75" ry="5.95" fill="none" stroke="#000" stroke-width="0.65"/>
<path d="M16.1,513.8 C14.2,514.5 12.8,516.6 12.6,518.3 C12.4,519.8 13.0,520.5 14.3,520.4 C16.0,520.3 18.0,519.3 20.3,517.3" fill="none" stroke="#000" stroke-width="0.65" stroke-linecap="round"/>
<path d="M154.16,111.60 L155.80,111.14 L157.80,110.57 L159.79,110.04 L161.79,109.54 L163.78,109.08 L165.78,108.66 L167.78,108.27 L169.77,107.91 L171.77,107.59 L173.77,107.31 L175.76,107.05 L177.76,106.83 L179.75,106.63 L181.75,106.47 L183.75,106.34 L185.74,106.23 L187.74,106.15 L189.73,106.10 L191.73,106.08 L193.73,106.08 L195.72,106.10 L197.72,106.15 L199.71,106.23 L201.71,106.32 L203.71,106.44 L205.70,106.58 L207.70,106.73 L209.70,106.91 L211.69,107.11 L213.69,107.32 L215.68,107.55 L217.68,107.80 L219.68,108.06 L221.67,108.34 L223.67,108.63 L225.66,108.94 L227.66,109.26 L229.66,109.59 L231.65,109.93 L233.65,110.28 L235.64,110.65 L237.64,111.02 L239.64,111.40 L241.63,111.78 L243.63,112.18 L245.63,112.58 L247.62,112.98 L249.62,113.39 L251.61,113.81 L253.61,114.22 L255.61,114.64 L257.60,115.07 L259.60,115.49 L261.59,115.92 L263.59,116.36 L265.59,116.80 L267.58,117.24 L269.58,117.68 L271.58,118.13 L273.57,118.58 L275.57,119.04 L277.56,119.49 L279.56,119.95 L281.56,120.42 L283.55,120.89 L285.55,121.36 L287.54,121.83 L289.54,122.31 L291.54,122.79 L293.53,123.27 L295.53,123.76 L297.52,124.25 L299.52,124.74 L301.52,125.24 L303.51,125.74 L305.51,126.24 L307.51,126.75 L309.50,127.26 L311.50,127.77 L313.49,128.28 L315.49,128.80 L317.49,129.32 L319.48,129.84 L321.48,130.37 L323.47,130.90 L325.47,131.43 L327.47,131.96 L329.46,132.50 L331.46,133.04 L333.46,133.58 L335.45,134.13 L337.45,134.68 L339.44,135.23 L341.44,135.78 L343.44,136.34 L345.43,136.89 L347.43,137.46 L349.42,138.02 L351.42,138.59 L353.42,139.15 L355.41,139.73 L357.41,140.30 L359.40,140.88 L361.40,141.45 L363.40,142.04 L365.39,142.62 L367.39,143.20 L369.39,143.79 L371.38,144.38 L373.38,144.98 L375.37,145.57 L377.37,146.17 L379.37,146.77 L381.36,147.37 L383.36,147.97 L385.35,148.58 L387.35,149.19 L389.35,149.80 L391.34,150.41 L393.34,151.03 L395.33,151.65 L397.33,152.26 L399.33,152.89 L401.32,153.51 L403.32,154.13 L405.32,154.76 L407.31,155.39 L409.31,156.02 L411.30,156.65 L413.30,157.29 M415.60,158.25 L417.58,158.88 L419.55,159.50 L421.53,160.12 L423.51,160.74 L425.49,161.35 L427.46,161.96 L429.44,162.57 L431.42,163.18 L433.39,163.78 L435.37,164.38 L437.35,164.98 L439.32,165.58 L441.30,166.17 L443.28,166.77 L445.26,167.36 L447.23,167.95 L449.21,168.53 L451.19,169.12 L453.16,169.70 L455.14,170.28 L457.12,170.86 L459.09,171.44 L461.07,172.01 L463.05,172.59 L465.03,173.16 L467.00,173.73 L468.98,174.30 L470.96,174.87 L472.93,175.44 L474.91,176.01 L476.89,176.57 L478.86,177.14 L480.84,177.70 L482.82,178.27 L484.80,178.83 L486.77,179.39 L488.75,179.95 L490.73,180.51 L492.70,181.07 L494.68,181.63 L496.66,182.19 L498.64,182.75 L500.61,183.31 L502.59,183.87 L504.57,184.43 L506.54,184.98 L508.52,185.54 L510.50,186.10 L512.47,186.66 L514.45,187.22 L516.43,187.78 L518.41,188.34 L520.38,188.89 L522.36,189.45 L524.34,190.01 L526.31,190.57 L528.29,191.13 L530.27,191.69 L532.24,192.25 L534.22,192.81 L536.20,193.36 L538.18,193.92 L540.15,194.48 L542.13,195.04 L544.11,195.60 L546.08,196.16 L548.06,196.72 L550.04,197.28 L552.01,197.83 L553.99,198.39 L555.97,198.95 L557.95,199.51 L559.92,200.07 L561.90,200.63 L561.90,200.34 L563.86,200.99 L565.82,201.67 L567.77,202.38 L569.73,203.11 L571.69,203.86 L573.65,204.63 L575.61,205.41 L577.56,206.21 L579.52,207.03 L581.48,207.85 L583.44,208.68 L585.40,209.52 L587.35,210.37 L589.31,211.22 L591.27,212.07 L593.23,212.92 L595.19,213.77 L597.15,214.61 L599.10,215.45 L601.06,216.28 L603.02,217.10 L604.98,217.91 L606.94,218.70 L608.89,219.48 L610.85,220.24 L612.81,220.98 L614.77,221.70 L616.73,222.40 L618.68,223.07 L620.64,223.71 L622.60,224.32" fill="none" stroke="#FF00AA" stroke-width="4.0" stroke-linecap="butt" stroke-linejoin="round" clip-path="url(#ct)"/>
<path d="M155.60,289.51 L157.60,288.27 L159.59,287.03 L161.59,285.79 L163.59,284.56 L165.58,283.34 L167.58,282.11 L169.58,280.90 L171.57,279.69 L173.57,278.48 L175.57,277.28 L177.56,276.09 L179.56,274.90 L181.56,273.72 L183.55,272.54 L185.55,271.37 L187.55,270.20 L189.54,269.05 L191.54,267.89 L193.54,266.74 L195.53,265.60 L197.53,264.47 L199.53,263.34 L201.52,262.22 L203.52,261.10 L205.52,259.99 L207.51,258.89 L209.51,257.79 L211.51,256.70 L213.50,255.62 L215.50,254.54 L217.50,253.47 L219.49,252.41 L221.49,251.36 L223.49,250.31 L225.48,249.27 L227.48,248.24 L229.48,247.21 L231.47,246.19 L233.47,245.18 L235.47,244.18 L237.46,243.19 L239.46,242.20 L241.46,241.22 L243.45,240.25 L245.45,239.28 L247.45,238.33 L249.44,237.38 L251.44,236.44 L253.44,235.51 L255.43,234.59 L257.43,233.67 L259.43,232.77 L261.42,231.87 L263.42,230.98 L265.42,230.10 L267.41,229.23 L269.41,228.37 L271.41,227.52 L273.40,226.68 L275.40,225.84 L277.40,225.02 L279.40,224.20 L281.39,223.39 L283.39,222.60 L285.39,221.81 L287.38,221.03 L289.38,220.26 L291.38,219.51 L293.37,218.76 L295.37,218.02 L297.37,217.29 L299.36,216.58 L301.36,215.87 L303.36,215.18 L305.35,214.49 L307.35,213.82 L309.35,213.16 L311.34,212.50 L313.34,211.86 L315.34,211.24 L317.33,210.62 L319.33,210.01 L321.33,209.42 L323.32,208.84 L325.32,208.26 L327.32,207.71 L329.31,207.16 L331.31,206.63 L333.31,206.10 L335.30,205.59 L337.30,205.10 L339.30,204.61 L341.29,204.14 L343.29,203.68 L345.29,203.24 L347.28,202.80 L349.28,202.39 L351.28,201.98 L353.27,201.59 L355.27,201.21 L357.27,200.84 L359.26,200.49 L361.26,200.15 L363.26,199.83 L365.25,199.52 L367.25,199.23 L369.25,198.95 L371.24,198.68 L373.24,198.43 L375.24,198.19 L377.23,197.97 L379.23,197.76 L381.23,197.57 L383.22,197.39 L385.22,197.23 L387.22,197.08 L389.21,196.95 L391.21,196.84 L393.21,196.74 L395.20,196.65 L397.20,196.58 L399.20,196.53 L401.19,196.50 L403.19,196.48 L405.19,196.47 L407.18,196.48 L409.18,196.50 L411.18,196.54 L413.17,196.59 L415.17,196.65 L417.17,196.72 L419.16,196.80 L421.16,196.89 L423.16,197.00 L425.15,197.11 L427.15,197.22 L429.15,197.35 L431.14,197.48 L433.14,197.62 L435.14,197.76 L437.13,197.91 L439.13,198.06 L441.13,198.22 L443.12,198.38 L445.12,198.54 L447.12,198.70 L449.11,198.86 L451.11,199.03 L453.11,199.19 L455.10,199.35 L457.10,199.51 L459.10,199.67 L461.09,199.83 L463.09,199.99 L465.09,200.15 L467.08,200.31 L469.08,200.46 L471.08,200.62 L473.07,200.78 L475.07,200.94 L477.07,201.10 L479.06,201.26 L481.06,201.43 L483.06,201.59 L485.05,201.75 L487.05,201.92 L489.05,202.09 L491.04,202.26 L493.04,202.43 L495.04,202.61 L497.03,202.79 L499.03,202.97 L501.03,203.15 L503.02,203.34 L505.02,203.53 L507.02,203.73 L509.01,203.92 L511.01,204.13 L513.01,204.33 L515.00,204.54 L517.00,204.76 L519.00,204.97 L521.00,205.20 L522.99,205.43 L524.99,205.66 L526.99,205.90 L528.98,206.15 L530.98,206.40 L532.98,206.65 L534.97,206.92 L536.97,207.19 L538.97,207.46 L540.96,207.74 L542.96,208.03 L544.96,208.33 L546.95,208.63 L548.95,208.94 L550.95,209.26 L552.94,209.59 L554.94,209.92 L556.94,210.27 L558.93,210.62 L560.93,210.98 L562.93,211.36 L564.92,211.74 L566.92,212.14 L568.92,212.54 L570.91,212.96 L572.91,213.39 L574.91,213.83 L576.90,214.29 L578.90,214.76 L580.90,215.24 L582.89,215.73 L584.89,216.24 L586.89,216.76 L588.88,217.30 L590.88,217.86 L592.88,218.42 L594.87,219.01 L596.87,219.61 L598.87,220.23 L600.86,220.86 L602.86,221.52 L604.86,222.19 L606.85,222.87 L608.85,223.58 L610.85,224.31 L612.84,225.05 L614.84,225.82 L616.84,226.60 L618.83,227.40 L620.83,228.23 L622.83,229.08 L624.82,229.94 L626.82,230.83 L628.82,231.74 L630.81,232.68 L632.81,233.64 L634.81,234.62 L636.80,235.62 L638.80,236.65" fill="none" stroke="#000000" stroke-width="3.3" stroke-linecap="butt" stroke-linejoin="round" stroke-dasharray="12 3.57 2.4 3.57 2.4 3.57 2.4 3.57" clip-path="url(#ct)"/>
<path d="M155.80,144.48 L157.79,144.89 L159.78,145.30 L161.78,145.70 L163.77,146.10 L165.76,146.50 L167.75,146.89 L169.74,147.28 L171.73,147.67 L173.73,148.06 L175.72,148.44 L177.71,148.82 L179.70,149.20 L181.69,149.58 L183.69,149.95 L185.68,150.32 L187.67,150.69 L189.66,151.06 L191.65,151.42 L193.65,151.78 L195.64,152.14 L197.63,152.50 L199.62,152.85 L201.61,153.20 L203.60,153.55 L205.60,153.90 L207.59,154.25 L209.58,154.59 L211.57,154.93 L213.56,155.27 L215.56,155.61 L217.55,155.95 L219.54,156.28 L221.53,156.61 L223.52,156.94 L225.52,157.27 L227.51,157.60 L229.50,157.92 L231.49,158.25 L233.48,158.57 L235.47,158.89 L237.47,159.21 L239.46,159.53 L241.45,159.84 L243.44,160.16 L245.43,160.47 L247.43,160.78 L249.42,161.09 L251.41,161.40 L253.40,161.71 L255.39,162.01 L257.39,162.32 L259.38,162.62 L261.37,162.93 L263.36,163.23 L265.35,163.53 L267.34,163.83 L269.34,164.13 L271.33,164.42 L273.32,164.72 L275.31,165.02 L277.30,165.31 L279.30,165.61 L281.29,165.90 L283.28,166.19 L285.27,166.48 L287.26,166.78 L289.26,167.07 L291.25,167.36 L293.24,167.65 L295.23,167.94 L297.22,168.22 L299.21,168.51 L301.21,168.80 L303.20,169.09 L305.19,169.37 L307.18,169.66 L309.17,169.95 L311.17,170.23 L313.16,170.52 L315.15,170.80 L317.14,171.09 L319.13,171.38 L321.13,171.66 L323.12,171.95 L325.11,172.23 L327.10,172.52 L329.09,172.80 L331.08,173.09 L333.08,173.37 L335.07,173.66 L337.06,173.95 L339.05,174.23 L341.04,174.52 L343.04,174.81 L345.03,175.09 L347.02,175.38 L349.01,175.67 L351.00,175.96 L353.00,176.25 L354.99,176.54 L356.98,176.83 L358.97,177.12 L360.96,177.41 L362.95,177.70 L364.95,177.99 L366.94,178.29 L368.93,178.58 L370.92,178.88 L372.91,179.17 L374.91,179.47 L376.90,179.77 L378.89,180.06 L380.88,180.36 L382.87,180.67 L384.87,180.97 L386.86,181.27 L388.85,181.57 L390.84,181.88 L392.83,182.19 L394.82,182.49 L396.82,182.80 L398.81,183.11 L400.80,183.42 L400.80,183.60 L401.50,180.20 M410.00,185.86 L411.99,186.05 L413.97,186.28 L415.96,186.55 L417.94,186.87 L419.93,187.23 L421.92,187.63 L423.90,188.05 L425.89,188.51 L427.87,188.99 L429.86,189.50 L431.85,190.03 L433.83,190.57 L435.82,191.13 L437.81,191.69 L439.79,192.27 L441.78,192.84 L443.76,193.42 L445.75,193.99 L447.74,194.55 L449.72,195.11 L451.71,195.65 L453.69,196.18 L455.68,196.69 L457.67,197.19 L459.65,197.67 L461.64,198.12 L463.62,198.56 L465.61,198.98 L467.60,199.38 L469.58,199.76 L471.57,200.13 L473.55,200.49 L475.54,200.84 L477.53,201.18 L479.51,201.51 L481.50,201.83 L483.49,202.14 L485.47,202.45 L487.46,202.76 L489.44,203.07 L491.43,203.37 L493.42,203.67 L495.40,203.98 L497.39,204.29 L499.37,204.60 L501.36,204.92 L503.35,205.25 L505.33,205.58 L507.32,205.92 L509.30,206.28 L511.29,206.64 L513.28,207.01 L515.26,207.39 L517.25,207.78 L519.23,208.17 L521.22,208.57 L523.21,208.98 L525.19,209.39 L527.18,209.81 L529.17,210.23 L531.15,210.65 L533.14,211.08 L535.12,211.51 L537.11,211.95 L539.10,212.39 L541.08,212.82 L543.07,213.26 L545.05,213.70 L547.04,214.14 L549.03,214.58 L551.01,215.02 L553.00,215.46 L554.98,215.90 L556.97,216.34 L558.96,216.78 L560.94,217.22 L562.93,217.66 L564.91,218.10 L566.90,218.55 L568.89,219.00 L570.87,219.45 L572.86,219.91 L574.85,220.38 L576.83,220.85 L578.82,221.33 L580.80,221.81 L582.79,222.30 L584.78,222.80 L586.76,223.31 L588.75,223.83 L590.73,224.36 L592.72,224.90 L594.71,225.45 L596.69,226.01 L598.68,226.58 L600.66,227.17 L602.65,227.77 L604.64,228.39 L606.62,229.02 L608.61,229.66 L610.59,230.32 L612.58,231.00 L614.57,231.69 L616.55,232.41 L618.54,233.14 L620.53,233.89 L622.51,234.65 L624.50,235.44 L626.48,236.25 L628.47,237.08 L630.46,237.93 L632.44,238.81 L634.43,239.70 L636.41,240.62 L638.40,241.57" fill="none" stroke="#7700FF" stroke-width="3.25" stroke-linecap="butt" stroke-linejoin="round" stroke-dasharray="15.9 7.72" clip-path="url(#ct)"/>
<path d="M155.80,196.17 L157.79,196.00 L159.78,195.83 L161.77,195.66 L163.76,195.50 L165.74,195.33 L167.73,195.17 L169.72,195.01 L171.71,194.85 L173.70,194.69 L175.69,194.54 L177.68,194.38 L179.67,194.23 L181.66,194.08 L183.65,193.93 L185.63,193.78 L187.62,193.63 L189.61,193.48 L191.60,193.34 L193.59,193.19 L195.58,193.05 L197.57,192.91 L199.56,192.77 L201.55,192.63 L203.54,192.50 L205.52,192.36 L207.51,192.23 L209.50,192.09 L211.49,191.96 L213.48,191.83 L215.47,191.70 L217.46,191.57 L219.45,191.44 L221.44,191.32 L223.43,191.19 L225.41,191.07 L227.40,190.94 L229.39,190.82 L231.38,190.70 L233.37,190.58 L235.36,190.46 L237.35,190.35 L239.34,190.23 L241.33,190.11 L243.31,190.00 L245.30,189.88 L247.29,189.77 L249.28,189.66 L251.27,189.55 L253.26,189.44 L255.25,189.33 L257.24,189.22 L259.23,189.11 L261.22,189.00 L263.20,188.90 L265.19,188.79 L267.18,188.69 L269.17,188.58 L271.16,188.48 L273.15,188.38 L275.14,188.28 L277.13,188.18 L279.12,188.08 L281.11,187.98 L283.09,187.88 L285.08,187.78 L287.07,187.69 L289.06,187.60 L291.05,187.50 L293.04,187.41 L295.03,187.33 L297.02,187.24 L299.01,187.16 L301.00,187.08 L302.98,187.00 L304.97,186.93 L306.96,186.85 L308.95,186.78 L310.94,186.72 L312.93,186.66 L314.92,186.60 L316.91,186.54 L318.90,186.49 L320.89,186.44 L322.87,186.40 L324.86,186.36 L326.85,186.32 L328.84,186.29 L330.83,186.26 L332.82,186.24 L334.81,186.22 L336.80,186.21 L338.79,186.20 L340.77,186.20 L342.76,186.21 L344.75,186.22 L346.74,186.23 L348.73,186.25 L350.72,186.28 L352.71,186.31 L354.70,186.35 L356.69,186.40 L358.68,186.45 L360.66,186.51 L362.65,186.57 L364.64,186.65 L366.63,186.73 L368.62,186.81 L370.61,186.91 L372.60,187.01 L374.59,187.12 L376.58,187.23 L378.57,187.36 L380.55,187.49 L382.54,187.63 L384.53,187.78 L386.52,187.94 L388.51,188.11 L390.50,188.29 L392.49,188.47 L394.48,188.66 L396.47,188.87 L398.46,189.08 L400.44,189.30 L402.43,189.53 L404.42,189.77 L406.41,190.02 L408.40,190.28 M412.30,191.38 L414.28,191.68 L416.27,191.99 L418.25,192.29 L420.23,192.59 L422.22,192.88 L424.20,193.18 L426.18,193.48 L428.17,193.77 L430.15,194.07 L432.13,194.36 L434.12,194.66 L436.10,194.95 L438.08,195.24 L440.07,195.53 L442.05,195.83 L444.03,196.12 L446.02,196.41 L448.00,196.70 L449.98,197.00 L451.97,197.29 L453.95,197.58 L455.93,197.88 L457.92,198.17 L459.90,198.47 L461.88,198.77 L463.87,199.07 L465.85,199.36 L467.83,199.66 L469.82,199.97 L471.80,200.27 L473.78,200.58 L475.77,200.88 L477.75,201.19 L479.73,201.50 L481.72,201.81 L483.70,202.13 L485.68,202.45 L487.67,202.76 L489.65,203.09 L491.63,203.41 L493.62,203.74 L495.60,204.07 L497.58,204.40 L499.57,204.74 L501.55,205.08 L503.53,205.42 L505.52,205.76 L507.50,206.11 L509.48,206.46 L511.47,206.82 L513.45,207.18 L515.43,207.54 L517.42,207.91 L519.40,208.28 L521.38,208.66 L523.37,209.04 L525.35,209.43 L527.33,209.82 L529.32,210.21 L531.30,210.61 L533.28,211.01 L535.27,211.42 L537.25,211.83 L539.23,212.25 L541.22,212.67 L543.20,213.10 L545.18,213.53 L547.17,213.96 L549.15,214.40 L551.13,214.84 L553.12,215.28 L555.10,215.73 L557.08,216.18 L559.07,216.64 L561.05,217.10 L563.03,217.56 L565.02,218.03 L567.00,218.50 L568.98,218.97 L570.97,219.45 L572.95,219.93 L574.93,220.41 L576.92,220.90 L578.90,221.40 L580.88,221.90 L582.87,222.41 L584.85,222.92 L586.83,223.44 L588.82,223.97 L590.80,224.51 L592.78,225.06 L594.77,225.62 L596.75,226.18 L598.73,226.76 L600.72,227.35 L602.70,227.95 L604.68,228.56 L606.67,229.19 L608.65,229.83 L610.63,230.48 L612.62,231.15 L614.60,231.84 L616.58,232.54 L618.57,233.26 L620.55,233.99 L622.53,234.75 L624.52,235.52 L626.50,236.31 L628.48,237.12 L630.47,237.95 L632.45,238.80 L634.43,239.67 L636.42,240.57 L638.40,241.49" fill="none" stroke="#0000FF" stroke-width="3.25" stroke-linecap="butt" stroke-linejoin="round" stroke-dasharray="15.9 7.72" clip-path="url(#ct)"/>
<path d="M155.80,240.20 L157.79,239.22 L159.78,238.26 L161.77,237.31 L163.76,236.37 L165.75,235.45 L167.74,234.53 L169.73,233.63 L171.72,232.74 L173.71,231.86 L175.70,231.00 L177.69,230.14 L179.68,229.29 L181.66,228.46 L183.65,227.64 L185.64,226.83 L187.63,226.03 L189.62,225.24 L191.61,224.47 L193.60,223.70 L195.59,222.95 L197.58,222.20 L199.57,221.47 L201.56,220.75 L203.55,220.04 L205.54,219.34 L207.53,218.66 L209.52,217.98 L211.51,217.31 L213.50,216.66 L215.49,216.01 L217.48,215.38 L219.47,214.76 L221.46,214.14 L223.45,213.54 L225.44,212.95 L227.43,212.37 L229.42,211.80 L231.40,211.24 L233.39,210.69 L235.38,210.15 L237.37,209.62 L239.36,209.10 L241.35,208.59 L243.34,208.09 L245.33,207.61 L247.32,207.13 L249.31,206.66 L251.30,206.20 L253.29,205.75 L255.28,205.32 L257.27,204.89 L259.26,204.47 L261.25,204.06 L263.24,203.66 L265.23,203.27 L267.22,202.89 L269.21,202.52 L271.20,202.16 L273.19,201.81 L275.18,201.47 L277.17,201.14 L279.16,200.82 L281.14,200.51 L283.13,200.20 L285.12,199.91 L287.11,199.63 L289.10,199.35 L291.09,199.08 L293.08,198.83 L295.07,198.58 L297.06,198.34 L299.05,198.11 L301.04,197.89 L303.03,197.68 L305.02,197.48 L307.01,197.28 L309.00,197.10 L310.99,196.92 L312.98,196.76 L314.97,196.60 L316.96,196.45 L318.95,196.31 L320.94,196.17 L322.93,196.05 L324.92,195.93 L326.91,195.83 L328.90,195.73 L330.88,195.64 L332.87,195.56 L334.86,195.48 L336.85,195.42 L338.84,195.36 L340.83,195.31 L342.82,195.27 L344.81,195.24 L346.80,195.22 L348.79,195.20 L350.78,195.19 L352.77,195.19 L354.76,195.20 L356.75,195.21 L358.74,195.24 L360.73,195.27 L362.72,195.31 L364.71,195.35 L366.70,195.41 L368.69,195.47 L370.68,195.54 L372.67,195.62 L374.66,195.70 L376.65,195.79 L378.64,195.89 L380.62,196.00 L382.61,196.11 L384.60,196.23 L386.59,196.36 L388.58,196.50 L390.57,196.64 L392.56,196.79 L394.55,196.95 L396.54,197.11 L398.53,197.29 L400.52,197.47 L402.51,197.65 L404.50,197.84 M406.60,196.20 L410.70,199.70 L410.70,199.57 L412.70,199.80 L414.69,200.03 L416.69,200.27 L418.69,200.50 L420.69,200.74 L422.68,200.97 L424.68,201.21 L426.68,201.45 L428.68,201.70 L430.67,201.94 L432.67,202.19 L434.67,202.44 L436.67,202.69 L438.66,202.94 L440.66,203.19 L442.66,203.45 L444.66,203.70 L446.65,203.96 L448.65,204.22 L450.65,204.49 L452.64,204.75 L454.64,205.02 L456.64,205.29 L458.64,205.56 L460.63,205.83 L462.63,206.11 L464.63,206.39 L466.63,206.67 L468.62,206.95 L470.62,207.24 L472.62,207.53 L474.62,207.82 L476.61,208.11 L478.61,208.40 L480.61,208.70 L482.61,209.00 L484.60,209.30 L486.60,209.61 L488.60,209.92 L490.59,210.23 L492.59,210.54 L494.59,210.86 L496.59,211.17 L498.58,211.50 L500.58,211.82 L502.58,212.15 L504.58,212.48 L506.57,212.81 L508.57,213.15 L510.57,213.49 L512.57,213.83 L514.56,214.17 L516.56,214.52 L518.56,214.87 L520.56,215.23 L522.55,215.59 L524.55,215.95 L526.55,216.31 L528.54,216.68 L530.54,217.05 L532.54,217.43 L534.54,217.81 L536.53,218.19 L538.53,218.58 L540.53,218.97 L542.53,219.37 L544.52,219.77 L546.52,220.18 L548.52,220.59 L550.52,221.01 L552.51,221.43 L554.51,221.86 L556.51,222.30 L558.51,222.74 L560.50,223.19 L562.50,223.65 L564.50,224.11 L566.49,224.58 L568.49,225.05 L570.49,225.53 L572.49,226.02 L574.48,226.52 L576.48,227.03 L578.48,227.54 L580.48,228.06 L582.47,228.59 L584.47,229.13 L586.47,229.68 L588.47,230.23 L590.46,230.80 L592.46,231.37 L594.46,231.96 L596.46,232.55 L598.45,233.15 L600.45,233.77 L602.45,234.39 L604.44,235.03 L606.44,235.68 L608.44,236.34 L610.44,237.01 L612.43,237.69 L614.43,238.39 L616.43,239.10 L618.43,239.82 L620.42,240.55 L622.42,241.30 L624.42,242.06 L626.42,242.84 L628.41,243.63 L630.41,244.43 L632.41,245.25 L634.41,246.09 L636.40,246.94 L638.40,247.80" fill="none" stroke="#00AA00" stroke-width="3.25" stroke-linecap="butt" stroke-linejoin="round" stroke-dasharray="15.9 7.72" clip-path="url(#ct)"/>
<path d="M157.74,303.52 L158.65,302.21 L160.65,299.34 L162.66,296.42 L164.67,293.45 L166.67,290.46 L168.68,287.45 L170.68,284.42 L172.67,281.39 L174.67,278.37 L176.66,275.36 L178.65,272.38 L180.64,269.43 L182.62,266.52 L184.60,263.66 L186.58,260.86 L188.56,258.12 L190.53,255.44 L192.50,252.83 L194.47,250.31 L196.43,247.86 L198.39,245.50 L200.35,243.24 L202.30,241.07 L204.25,239.00 L206.19,237.03 L208.14,235.15 L210.09,233.35 L212.04,231.63 L213.99,229.99 L215.94,228.41 L217.90,226.89 L219.85,225.43 L221.82,224.01 L223.78,222.64 L225.75,221.31 L227.72,220.01 L229.70,218.74 L231.67,217.50 L233.65,216.28 L235.63,215.09 L237.61,213.91 L239.59,212.76 L241.57,211.62 L243.56,210.50 L245.54,209.39 L247.53,208.30 L249.52,207.22 L251.51,206.14 L253.49,205.08 L255.48,204.02 L257.46,202.99 L259.44,201.97 L261.42,200.98 L263.39,200.01 L265.36,199.07 L267.33,198.17 L269.29,197.30 L271.25,196.47 L273.20,195.68 L275.16,194.94 L277.11,194.24 L279.06,193.59 L281.02,192.99 L282.98,192.42 L284.95,191.88 L286.92,191.38 L288.89,190.89 L290.87,190.43 L292.85,189.98 L294.84,189.54 L296.83,189.11 L298.81,188.69 L300.80,188.29 L302.78,187.89 L304.77,187.51 L306.75,187.14 L308.73,186.79 L310.72,186.44 L312.70,186.11 L314.68,185.80 L316.66,185.50 L318.65,185.21 L320.63,184.94 L322.61,184.68 L324.59,184.44 L326.57,184.22 L328.55,184.01 L330.53,183.82 L332.51,183.64 L334.49,183.48 L336.47,183.34 L338.44,183.22 L340.42,183.12 L342.40,183.03 L344.38,182.97 L346.35,182.92 L348.33,182.90 L350.30,182.89 L352.28,182.90 L354.26,182.94 L356.24,182.99 L358.21,183.06 L360.19,183.15 L362.17,183.26 L364.15,183.38 L366.13,183.52 L368.11,183.67 L370.10,183.84 L372.08,184.02 L374.06,184.21 L376.05,184.42 L378.03,184.64 L380.02,184.87 L382.01,185.11 L383.99,185.36 L385.98,185.62 L387.97,185.89 L389.96,186.16 L391.95,186.45 L393.94,186.74 L395.93,187.04 L397.92,187.34 L399.91,187.64 L401.91,187.95 L403.90,188.27 L405.90,188.58 L407.89,188.90 L409.89,189.22 L411.88,189.54 L413.88,189.86 L415.88,190.18 L417.88,190.50 L419.88,190.82 L421.88,191.13 L423.88,191.44 L425.88,191.75 L427.88,192.05 L429.88,192.35 L431.89,192.64 L433.89,192.93 L435.89,193.21 L437.89,193.49 L439.89,193.77 L441.89,194.04 L443.89,194.31 L445.89,194.57 L447.89,194.84 L449.89,195.10 L451.89,195.36 L453.89,195.61 L455.88,195.87 L457.88,196.13 L459.88,196.38 L461.88,196.64 L463.87,196.89 L465.87,197.15 L467.86,197.41 L469.86,197.67 L471.85,197.93 L473.85,198.19 L475.84,198.45 L477.84,198.72 L479.83,198.99 L481.82,199.27 L483.82,199.54 L485.81,199.82 L487.80,200.11 L489.79,200.40 L491.79,200.70 L493.78,201.00 L495.77,201.31 L497.76,201.62 L499.75,201.94 L501.74,202.27 L503.73,202.60 L505.72,202.94 L507.71,203.29 L509.69,203.65 L511.68,204.02 L513.67,204.39 L515.66,204.78 L517.64,205.17 L519.63,205.57 L521.62,205.99 L523.60,206.41 L525.59,206.85 L527.57,207.29 L529.56,207.75 L531.54,208.22 L533.53,208.71 L535.51,209.20 L537.50,209.71 L539.50,210.22 L541.50,210.73 L543.50,211.24 L545.50,211.74 L547.51,212.23 L549.51,212.72 L551.51,213.20 L553.51,213.69 L555.50,214.17 L557.49,214.66 L559.48,215.15 L561.46,215.66 L563.45,216.18 L565.43,216.71 L567.41,217.26 L569.40,217.82 L571.38,218.39 L573.36,218.99 L575.34,219.59 L577.32,220.22 L579.30,220.86 L581.28,221.53 L583.25,222.21 L585.23,222.91 L587.21,223.62 L589.19,224.36 L591.17,225.12 L593.15,225.90 L595.14,226.69 L597.12,227.49 L599.11,228.31 L601.10,229.13 L603.09,229.97 L605.08,230.81 L607.07,231.66 L609.07,232.51 L611.06,233.36 L613.06,234.22 L615.06,235.07 L617.06,235.92 L619.06,236.77 L621.06,237.61 L622.74,233.61 L620.75,232.77 L618.75,231.93 L616.76,231.08 L614.77,230.22 L612.77,229.37 L610.77,228.52 L608.77,227.66 L606.77,226.81 L604.77,225.97 L602.76,225.13 L600.76,224.30 L598.75,223.48 L596.74,222.67 L594.73,221.88 L592.72,221.10 L590.71,220.34 L588.69,219.59 L586.68,218.86 L584.66,218.16 L582.64,217.47 L580.63,216.81 L578.61,216.16 L576.60,215.53 L574.59,214.91 L572.57,214.32 L570.56,213.74 L568.55,213.17 L566.54,212.62 L564.53,212.09 L562.52,211.56 L560.51,211.06 L558.50,210.56 L556.50,210.07 L554.50,209.58 L552.50,209.10 L550.51,208.62 L548.51,208.13 L546.52,207.64 L544.53,207.14 L542.54,206.64 L540.55,206.12 L538.55,205.61 L536.54,205.11 L534.54,204.61 L532.53,204.12 L530.52,203.65 L528.51,203.19 L526.50,202.74 L524.49,202.30 L522.48,201.87 L520.48,201.46 L518.47,201.05 L516.46,200.66 L514.45,200.27 L512.45,199.90 L510.44,199.53 L508.44,199.17 L506.43,198.82 L504.43,198.48 L502.42,198.14 L500.42,197.81 L498.41,197.49 L496.41,197.18 L494.41,196.87 L492.40,196.57 L490.40,196.27 L488.40,195.98 L486.40,195.69 L484.40,195.41 L482.40,195.13 L480.40,194.86 L478.40,194.59 L476.40,194.32 L474.40,194.05 L472.40,193.79 L470.40,193.53 L468.40,193.27 L466.40,193.01 L464.40,192.76 L462.41,192.50 L460.41,192.25 L458.41,191.99 L456.41,191.73 L454.42,191.48 L452.42,191.22 L450.43,190.96 L448.43,190.70 L446.44,190.44 L444.44,190.17 L442.45,189.90 L440.46,189.63 L438.46,189.36 L436.47,189.08 L434.48,188.80 L432.49,188.51 L430.49,188.22 L428.50,187.92 L426.51,187.62 L424.52,187.31 L422.52,187.00 L420.53,186.69 L418.53,186.37 L416.54,186.05 L414.54,185.73 L412.55,185.41 L410.55,185.09 L408.55,184.77 L406.55,184.45 L404.55,184.14 L402.55,183.82 L400.55,183.51 L398.55,183.21 L396.55,182.90 L394.55,182.61 L392.54,182.32 L390.54,182.03 L388.53,181.75 L386.53,181.48 L384.52,181.22 L382.52,180.97 L380.51,180.73 L378.50,180.50 L376.49,180.28 L374.48,180.07 L372.47,179.88 L370.46,179.69 L368.45,179.52 L366.44,179.37 L364.42,179.23 L362.41,179.11 L360.39,179.00 L358.38,178.91 L356.36,178.84 L354.35,178.79 L352.33,178.75 L350.31,178.74 L348.29,178.75 L346.28,178.77 L344.26,178.82 L342.24,178.88 L340.23,178.97 L338.21,179.07 L336.19,179.20 L334.18,179.34 L332.16,179.50 L330.15,179.67 L328.13,179.87 L326.12,180.08 L324.11,180.30 L322.09,180.55 L320.08,180.80 L318.07,181.08 L316.05,181.37 L314.04,181.67 L312.03,181.99 L310.02,182.32 L308.01,182.66 L306.00,183.02 L303.99,183.39 L301.98,183.78 L299.97,184.17 L297.96,184.58 L295.95,185.00 L293.95,185.43 L291.94,185.87 L289.93,186.32 L287.91,186.79 L285.89,187.28 L283.87,187.79 L281.84,188.33 L279.81,188.91 L277.77,189.53 L275.73,190.19 L273.69,190.90 L271.65,191.66 L269.61,192.46 L267.57,193.31 L265.54,194.19 L263.52,195.11 L261.49,196.06 L259.47,197.04 L257.45,198.04 L255.44,199.07 L253.43,200.11 L251.42,201.17 L249.41,202.24 L247.41,203.32 L245.40,204.41 L243.39,205.51 L241.39,206.62 L239.38,207.75 L237.36,208.89 L235.35,210.06 L233.34,211.24 L231.32,212.45 L229.30,213.68 L227.29,214.94 L225.27,216.22 L223.25,217.54 L221.22,218.89 L219.19,220.28 L217.16,221.72 L215.12,223.22 L213.09,224.77 L211.04,226.39 L209.00,228.08 L206.96,229.84 L204.91,231.69 L202.86,233.63 L200.82,235.66 L198.77,237.79 L196.73,240.02 L194.69,242.34 L192.65,244.75 L190.62,247.25 L188.60,249.82 L186.57,252.47 L184.55,255.19 L182.54,257.96 L180.52,260.80 L178.51,263.68 L176.50,266.62 L174.49,269.59 L172.49,272.58 L170.48,275.60 L168.48,278.63 L166.49,281.66 L164.49,284.68 L162.50,287.68 L160.51,290.66 L158.53,293.60 L156.54,296.50 L154.55,299.36 L153.64,300.68 Z" fill="#FF0000" stroke="none" clip-path="url(#ct)"/>
<path d="M155.60,475.10 L157.60,475.81 L159.59,476.51 L161.59,477.22 L163.58,477.92 L165.58,478.62 L167.57,479.32 L169.57,480.02 L171.56,480.71 L173.56,481.40 L175.55,482.09 L177.55,482.78 L179.54,483.46 L181.54,484.14 L183.53,484.81 L185.53,485.48 L187.52,486.15 L189.52,486.81 L191.51,487.46 L193.51,488.11 L195.50,488.76 L197.50,489.39 L199.49,490.03 L201.49,490.65 L203.48,491.27 L205.48,491.88 L207.48,492.49 L209.47,493.09 L211.47,493.68 L213.46,494.26 L215.46,494.83 L217.45,495.40 L219.45,495.96 L221.44,496.50 L223.44,497.04 L225.43,497.57 L227.43,498.09 L229.42,498.60 L231.42,499.10 L233.41,499.60 L235.41,500.08 L237.40,500.56 L239.40,501.03 L241.39,501.49 L243.39,501.95 L245.38,502.40 L247.38,502.84 L249.37,503.28 L251.37,503.70 L253.36,504.13 L255.36,504.55 L257.36,504.96 L259.35,505.37 L261.35,505.77 L263.34,506.17 L265.34,506.56 L267.33,506.95 L269.33,507.34 L271.32,507.72 L273.32,508.10 L275.31,508.47 L277.31,508.85 L279.30,509.21 L281.30,509.58 L283.29,509.94 L285.29,510.30 L287.28,510.65 L289.28,511.00 L291.27,511.35 L293.27,511.69 L295.26,512.03 L297.26,512.36 L299.25,512.69 L301.25,513.02 L303.24,513.34 L305.24,513.66 L307.24,513.98 L309.23,514.29 L311.23,514.60 L313.22,514.90 L315.22,515.20 L317.21,515.50 L319.21,515.79 L321.20,516.08 L323.20,516.36 L325.19,516.64 L327.19,516.91 L329.18,517.18 L331.18,517.45 L333.17,517.71 L335.17,517.97 L337.16,518.22 L339.16,518.47 L341.15,518.72 L343.15,518.96 L345.14,519.20 L347.14,519.43 L349.13,519.65 L351.13,519.88 L353.12,520.10 L355.12,520.31 L357.12,520.52 L359.11,520.72 L361.11,520.92 L363.10,521.12 L365.10,521.31 L367.09,521.50 L369.09,521.69 L371.08,521.86 L373.08,522.04 L375.07,522.21 L377.07,522.38 L379.06,522.54 L381.06,522.70 L383.05,522.86 L385.05,523.01 L387.04,523.16 L389.04,523.30 L391.03,523.45 L393.03,523.58 L395.02,523.72 L397.02,523.85 L399.01,523.97 L401.01,524.10 L403.00,524.21 L405.00,524.33 M409.20,524.92 L411.19,524.97 L413.19,525.02 L415.18,525.07 L417.17,525.13 L419.17,525.18 L421.16,525.24 L423.15,525.30 L425.14,525.36 L427.14,525.42 L429.13,525.48 L431.12,525.54 L433.12,525.61 L435.11,525.67 L437.10,525.74 L439.10,525.81 L441.09,525.87 L443.08,525.94 L445.07,526.01 L447.07,526.08 L449.06,526.16 L451.05,526.23 L453.05,526.30 L455.04,526.37 L457.03,526.45 L459.03,526.52 L461.02,526.60 L463.01,526.67 L465.01,526.75 L467.00,526.82 L468.99,526.90 L470.98,526.97 L472.98,527.05 L474.97,527.12 L476.96,527.20 L478.96,527.28 L480.95,527.35 L482.94,527.43 L484.94,527.50 L486.93,527.58 L488.92,527.65 L490.91,527.73 L492.91,527.80 L494.90,527.88 L496.89,527.95 L498.89,528.02 L500.88,528.09 L502.87,528.16 L504.87,528.23 L506.86,528.30 L508.85,528.37 L510.85,528.44 L512.84,528.51 L514.83,528.57 L516.82,528.64 L518.82,528.70 L520.81,528.77 L522.80,528.83 L524.80,528.89 L526.79,528.95 L528.78,529.00 L530.78,529.06 L532.77,529.11 L534.76,529.17 L536.75,529.22 L538.75,529.27 L540.74,529.32 L542.73,529.36 L544.73,529.41 L546.72,529.45 L548.71,529.49 L550.71,529.53 L552.70,529.57 L554.69,529.61 L556.69,529.64 L558.68,529.67 L560.67,529.70 L562.66,529.73 L564.66,529.75 L566.65,529.77 L568.64,529.79 L570.64,529.81 L572.63,529.82 L574.62,529.84 L576.62,529.85 L578.61,529.85 L580.60,529.86 L582.59,529.86 L584.59,529.86 L586.58,529.85 L588.57,529.85 L590.57,529.84 L592.56,529.82 L594.55,529.81 L596.55,529.79 L598.54,529.77 L600.53,529.74 L602.53,529.71 L604.52,529.68 L606.51,529.64 L608.50,529.60 L610.50,529.56 L612.49,529.52 L614.48,529.47 L616.48,529.41 L618.47,529.36 L620.46,529.30 L622.46,529.23 L624.45,529.16 L626.44,529.09 L628.43,529.02 L630.43,528.94 L632.42,528.85 L634.41,528.76 L636.41,528.67 L638.40,528.58" fill="none" stroke="#0000FF" stroke-width="3.25" stroke-linecap="butt" stroke-linejoin="round" stroke-dasharray="15.9 7.72" clip-path="url(#cb)"/>
<path d="M155.60,501.86 L157.60,502.07 L159.60,502.29 L161.60,502.51 L163.60,502.74 L165.60,502.96 L167.60,503.18 L169.59,503.40 L171.59,503.63 L173.59,503.85 L175.59,504.08 L177.59,504.30 L179.59,504.53 L181.59,504.76 L183.59,504.99 L185.59,505.22 L187.59,505.44 L189.59,505.67 L191.59,505.90 L193.58,506.14 L195.58,506.37 L197.58,506.60 L199.58,506.83 L201.58,507.06 L203.58,507.29 L205.58,507.53 L207.58,507.76 L209.58,507.99 L211.58,508.23 L213.58,508.46 L215.58,508.69 L217.58,508.93 L219.57,509.16 L221.57,509.40 L223.57,509.63 L225.57,509.86 L227.57,510.10 L229.57,510.33 L231.57,510.57 L233.57,510.80 L235.57,511.03 L237.57,511.27 L239.57,511.50 L241.57,511.73 L243.57,511.96 L245.56,512.20 L247.56,512.43 L249.56,512.66 L251.56,512.89 L253.56,513.12 L255.56,513.35 L257.56,513.58 L259.56,513.81 L261.56,514.04 L263.56,514.27 L265.56,514.50 L267.56,514.73 L269.55,514.96 L271.55,515.18 L273.55,515.41 L275.55,515.63 L277.55,515.86 L279.55,516.08 L281.55,516.30 L283.55,516.52 L285.55,516.75 L287.55,516.97 L289.55,517.19 L291.55,517.40 L293.55,517.62 L295.54,517.84 L297.54,518.05 L299.54,518.27 L301.54,518.48 L303.54,518.69 L305.54,518.90 L307.54,519.11 L309.54,519.32 L311.54,519.53 L313.54,519.74 L315.54,519.94 L317.54,520.15 L319.53,520.35 L321.53,520.55 L323.53,520.75 L325.53,520.95 L327.53,521.15 L329.53,521.34 L331.53,521.54 L333.53,521.73 L335.53,521.92 L337.53,522.11 L339.53,522.30 L341.53,522.49 L343.53,522.67 L345.52,522.85 L347.52,523.03 L349.52,523.21 L351.52,523.39 L353.52,523.57 L355.52,523.74 L357.52,523.92 L359.52,524.09 L361.52,524.26 L363.52,524.42 L365.52,524.59 L367.52,524.75 L369.52,524.91 L371.51,525.07 L373.51,525.23 L375.51,525.38 L377.51,525.53 L379.51,525.68 L381.51,525.83 L383.51,525.98 L385.51,526.12 L387.51,526.27 L389.51,526.40 L391.51,526.54 L393.51,526.68 L395.50,526.81 L397.50,526.94 L399.50,527.07 L401.50,527.19 L403.50,527.31 L405.50,527.43 L407.50,527.55 M413.40,527.96 L415.39,528.02 L417.38,528.08 L419.37,528.14 L421.36,528.20 L423.36,528.26 L425.35,528.32 L427.34,528.38 L429.33,528.44 L431.32,528.50 L433.31,528.56 L435.30,528.62 L437.29,528.69 L439.28,528.75 L441.28,528.81 L443.27,528.87 L445.26,528.94 L447.25,529.00 L449.24,529.06 L451.23,529.13 L453.22,529.19 L455.21,529.25 L457.21,529.31 L459.20,529.38 L461.19,529.44 L463.18,529.50 L465.17,529.56 L467.16,529.63 L469.15,529.69 L471.14,529.75 L473.13,529.81 L475.13,529.87 L477.12,529.93 L479.11,530.00 L481.10,530.06 L483.09,530.12 L485.08,530.18 L487.07,530.23 L489.06,530.29 L491.05,530.35 L493.05,530.41 L495.04,530.47 L497.03,530.52 L499.02,530.58 L501.01,530.63 L503.00,530.69 L504.99,530.74 L506.98,530.80 L508.98,530.85 L510.97,530.90 L512.96,530.95 L514.95,531.01 L516.94,531.06 L518.93,531.10 L520.92,531.15 L522.91,531.20 L524.90,531.25 L526.90,531.29 L528.89,531.34 L530.88,531.38 L532.87,531.42 L534.86,531.47 L536.85,531.51 L538.84,531.55 L540.83,531.59 L542.82,531.62 L544.82,531.66 L546.81,531.70 L548.80,531.73 L550.79,531.76 L552.78,531.79 L554.77,531.83 L556.76,531.85 L558.75,531.88 L560.75,531.91 L562.74,531.93 L564.73,531.96 L566.72,531.98 L568.71,532.00 L570.70,532.02 L572.69,532.04 L574.68,532.06 L576.67,532.07 L578.67,532.09 L580.66,532.10 L582.65,532.11 L584.64,532.12 L586.63,532.13 L588.62,532.13 L590.61,532.14 L592.60,532.14 L594.59,532.14 L596.59,532.14 L598.58,532.13 L600.57,532.13 L602.56,532.12 L604.55,532.11 L606.54,532.10 L608.53,532.09 L610.52,532.08 L612.52,532.06 L614.51,532.04 L616.50,532.02 L618.49,532.00 L620.48,531.98 L622.47,531.95 L624.46,531.92 L626.45,531.89 L628.44,531.86 L630.44,531.83 L632.43,531.79 L634.42,531.75 L636.41,531.71 L638.40,531.66" fill="none" stroke="#00AA00" stroke-width="3.25" stroke-linecap="butt" stroke-linejoin="round" stroke-dasharray="15.9 7.72" clip-path="url(#cb)"/>
<path d="M155.40,533.07 L156.78,532.47 L158.77,531.58 L160.75,530.72 L162.72,529.88 L164.70,529.07 L166.67,528.28 L168.64,527.52 L170.62,526.77 L172.59,526.06 L174.57,525.36 L176.54,524.69 L178.52,524.04 L180.49,523.42 L182.47,522.81 L184.45,522.23 L186.42,521.67 L188.40,521.13 L190.37,520.61 L192.35,520.11 L194.33,519.63 L196.31,519.17 L198.28,518.73 L200.26,518.30 L202.24,517.90 L204.22,517.52 L206.20,517.15 L208.17,516.80 L210.15,516.47 L212.13,516.16 L214.11,515.86 L216.09,515.58 L218.07,515.32 L220.05,515.07 L222.03,514.84 L224.01,514.62 L226.00,514.42 L227.98,514.24 L229.96,514.07 L231.94,513.91 L233.92,513.77 L235.91,513.64 L237.89,513.52 L239.87,513.42 L241.86,513.33 L243.84,513.25 L245.83,513.18 L247.81,513.13 L249.80,513.09 L251.78,513.06 L253.77,513.04 L255.75,513.03 L257.74,513.03 L259.73,513.04 L261.71,513.06 L263.70,513.09 L265.69,513.13 L267.68,513.18 L269.67,513.23 L271.65,513.30 L273.64,513.37 L275.63,513.45 L277.62,513.54 L279.61,513.63 L281.60,513.74 L283.59,513.84 L285.58,513.96 L287.57,514.08 L289.57,514.20 L291.56,514.33 L293.55,514.47 L295.54,514.61 L297.54,514.75 L299.53,514.90 L301.52,515.05 L303.52,515.20 L305.51,515.36 L307.50,515.52 L309.50,515.69 L311.49,515.85 L313.49,516.02 L315.48,516.19 L317.48,516.36 L319.47,516.53 L321.47,516.71 L323.46,516.89 L325.46,517.06 L327.46,517.24 L329.45,517.42 L331.45,517.60 L333.44,517.78 L335.44,517.97 L337.44,518.15 L339.43,518.33 L341.43,518.51 L343.43,518.70 L345.43,518.88 L347.42,519.06 L349.42,519.25 L351.42,519.43 L353.42,519.61 L355.41,519.79 L357.41,519.97 L359.41,520.14 L361.41,520.32 L363.41,520.49 L365.41,520.67 L367.41,520.84 L369.40,521.01 L371.40,521.17 L373.40,521.34 L375.40,521.50 L377.40,521.66 L379.40,521.82 L381.40,521.98 L383.40,522.13 L385.40,522.28 L387.40,522.43 L389.40,522.58 L391.40,522.73 L393.39,522.87 L395.39,523.01 L397.39,523.15 L399.39,523.29 L401.39,523.42 L403.39,523.56 L405.39,523.69 L407.39,523.82 L409.39,523.95 L411.39,524.07 L413.38,524.20 L415.38,524.32 L417.38,524.44 L419.38,524.56 L421.38,524.67 L423.38,524.79 L425.38,524.90 L427.38,525.01 L429.38,525.12 L431.37,525.23 L433.37,525.33 L435.37,525.44 L437.37,525.54 L439.37,525.64 L441.37,525.74 L443.37,525.84 L445.37,525.93 L447.36,526.03 L449.36,526.12 L451.36,526.21 L453.36,526.30 L455.36,526.39 L457.36,526.47 L459.36,526.56 L461.35,526.64 L463.35,526.72 L465.35,526.80 L467.35,526.88 L469.35,526.96 L471.35,527.04 L473.34,527.12 L475.34,527.19 L477.34,527.26 L479.34,527.34 L481.34,527.41 L483.33,527.48 L485.33,527.55 L487.33,527.62 L489.33,527.68 L491.33,527.75 L493.32,527.82 L495.32,527.88 L497.32,527.95 L499.32,528.01 L501.31,528.08 L503.31,528.14 L505.31,528.20 L507.31,528.26 L509.30,528.33 L511.30,528.39 L513.30,528.45 L515.30,528.51 L517.29,528.57 L519.29,528.63 L521.29,528.69 L523.29,528.75 L525.28,528.81 L527.28,528.86 L529.28,528.92 L531.27,528.98 L533.27,529.04 L535.27,529.10 L537.26,529.16 L539.26,529.22 L541.26,529.28 L543.26,529.34 L545.25,529.40 L547.25,529.46 L549.25,529.52 L551.24,529.58 L553.24,529.64 L555.24,529.70 L557.23,529.76 L559.23,529.82 L561.22,529.89 L563.22,529.95 L565.22,530.01 L567.21,530.08 L569.21,530.14 L571.21,530.21 L573.20,530.27 L575.20,530.34 L577.20,530.41 L579.19,530.47 L581.19,530.54 L583.19,530.60 L585.19,530.67 L587.18,530.73 L589.18,530.80 L591.18,530.86 L593.18,530.93 L595.17,530.99 L597.17,531.05 L599.17,531.11 L601.17,531.17 L603.17,531.23 L605.16,531.29 L607.16,531.35 L609.16,531.40 L611.16,531.46 L613.16,531.51 L615.16,531.56 L617.16,531.61 L619.15,531.66 L621.15,531.71 L621.25,527.56 L619.25,527.51 L617.26,527.46 L615.26,527.41 L613.27,527.36 L611.27,527.31 L609.28,527.25 L607.28,527.20 L605.28,527.14 L603.29,527.08 L601.29,527.02 L599.30,526.96 L597.30,526.90 L595.30,526.84 L593.31,526.78 L591.31,526.71 L589.32,526.65 L587.32,526.58 L585.32,526.52 L583.33,526.45 L581.33,526.39 L579.33,526.32 L577.33,526.26 L575.34,526.19 L573.34,526.12 L571.34,526.06 L569.35,525.99 L567.35,525.93 L565.35,525.86 L563.35,525.80 L561.36,525.74 L559.36,525.67 L557.36,525.61 L555.36,525.55 L553.37,525.49 L551.37,525.43 L549.37,525.37 L547.37,525.31 L545.38,525.25 L543.38,525.19 L541.38,525.13 L539.38,525.07 L537.39,525.01 L535.39,524.95 L533.39,524.89 L531.40,524.83 L529.40,524.77 L527.40,524.71 L525.41,524.66 L523.41,524.60 L521.41,524.54 L519.42,524.48 L517.42,524.42 L515.42,524.36 L513.43,524.30 L511.43,524.24 L509.43,524.18 L507.44,524.11 L505.44,524.05 L503.44,523.99 L501.45,523.93 L499.45,523.86 L497.45,523.80 L495.46,523.73 L493.46,523.67 L491.46,523.60 L489.47,523.54 L487.47,523.47 L485.48,523.40 L483.48,523.33 L481.48,523.26 L479.49,523.19 L477.49,523.11 L475.50,523.04 L473.50,522.97 L471.50,522.89 L469.51,522.81 L467.51,522.74 L465.52,522.66 L463.52,522.57 L461.53,522.49 L459.53,522.41 L457.54,522.32 L455.54,522.24 L453.54,522.15 L451.55,522.06 L449.55,521.97 L447.56,521.88 L445.56,521.78 L443.57,521.69 L441.57,521.59 L439.58,521.49 L437.58,521.39 L435.59,521.29 L433.59,521.19 L431.60,521.08 L429.60,520.97 L427.61,520.86 L425.61,520.75 L423.62,520.64 L421.62,520.53 L419.63,520.41 L417.63,520.29 L415.64,520.17 L413.64,520.05 L411.64,519.92 L409.65,519.80 L407.65,519.67 L405.66,519.54 L403.66,519.41 L401.67,519.28 L399.68,519.14 L397.68,519.00 L395.69,518.87 L393.69,518.72 L391.70,518.58 L389.70,518.43 L387.71,518.29 L385.71,518.14 L383.72,517.99 L381.72,517.83 L379.73,517.68 L377.73,517.52 L375.74,517.36 L373.74,517.19 L371.75,517.03 L369.75,516.86 L367.76,516.69 L365.76,516.52 L363.77,516.35 L361.77,516.18 L359.78,516.00 L357.78,515.82 L355.79,515.64 L353.79,515.46 L351.79,515.28 L349.80,515.10 L347.80,514.92 L345.80,514.74 L343.81,514.55 L341.81,514.37 L339.81,514.19 L337.82,514.01 L335.82,513.82 L333.82,513.64 L331.82,513.46 L329.83,513.28 L327.83,513.10 L325.83,512.92 L323.83,512.74 L321.83,512.57 L319.83,512.39 L317.84,512.22 L315.84,512.04 L313.84,511.88 L311.84,511.71 L309.84,511.54 L307.84,511.38 L305.84,511.22 L303.84,511.06 L301.84,510.91 L299.84,510.75 L297.84,510.61 L295.84,510.46 L293.84,510.32 L291.83,510.19 L289.83,510.06 L287.83,509.93 L285.83,509.81 L283.82,509.70 L281.82,509.59 L279.82,509.49 L277.81,509.39 L275.81,509.30 L273.80,509.22 L271.80,509.15 L269.79,509.09 L267.79,509.03 L265.78,508.98 L263.77,508.94 L261.77,508.91 L259.76,508.89 L257.75,508.88 L255.75,508.88 L253.74,508.89 L251.73,508.91 L249.72,508.94 L247.71,508.98 L245.70,509.03 L243.69,509.10 L241.68,509.18 L239.67,509.27 L237.66,509.37 L235.65,509.49 L233.64,509.62 L231.63,509.76 L229.62,509.92 L227.61,510.09 L225.59,510.28 L223.58,510.48 L221.57,510.70 L219.56,510.93 L217.54,511.18 L215.53,511.45 L213.51,511.73 L211.50,512.03 L209.48,512.34 L207.47,512.68 L205.45,513.03 L203.44,513.40 L201.42,513.78 L199.41,514.19 L197.39,514.62 L195.37,515.06 L193.36,515.52 L191.34,516.01 L189.32,516.51 L187.31,517.04 L185.29,517.58 L183.27,518.15 L181.25,518.74 L179.23,519.35 L177.22,519.98 L175.20,520.64 L173.18,521.32 L171.16,522.02 L169.14,522.74 L167.12,523.49 L165.10,524.26 L163.08,525.06 L161.06,525.88 L159.04,526.72 L157.02,527.59 L155.02,528.49 L153.65,529.09 Z" fill="#FF0000" stroke="none" clip-path="url(#cb)"/>
<path d="M155.60,437.34 L157.59,438.69 L159.57,440.02 L161.56,441.33 L163.55,442.64 L165.53,443.92 L167.52,445.20 L169.51,446.45 L171.50,447.70 L173.48,448.93 L175.47,450.15 L177.46,451.35 L179.44,452.54 L181.43,453.71 L183.42,454.88 L185.40,456.03 L187.39,457.16 L189.38,458.28 L191.36,459.39 L193.35,460.49 L195.34,461.57 L197.32,462.64 L199.31,463.70 L201.30,464.75 L203.29,465.78 L205.27,466.80 L207.26,467.81 L209.25,468.80 L211.23,469.79 L213.22,470.76 L215.21,471.72 L217.19,472.67 L219.18,473.60 L221.17,474.53 L223.15,475.44 L225.14,476.35 L227.13,477.24 L229.11,478.12 L231.10,478.99 L233.09,479.84 L235.08,480.69 L237.06,481.53 L239.05,482.35 L241.04,483.17 L243.02,483.97 L245.01,484.77 L247.00,485.55 L248.98,486.32 L250.97,487.09 L252.96,487.84 L254.94,488.59 L256.93,489.32 L258.92,490.04 L260.90,490.76 L262.89,491.46 L264.88,492.16 L266.87,492.85 L268.85,493.53 L270.84,494.19 L272.83,494.85 L274.81,495.50 L276.80,496.15 L278.79,496.78 L280.77,497.40 L282.76,498.02 L284.75,498.63 L286.73,499.23 L288.72,499.82 L290.71,500.40 L292.70,500.97 L294.68,501.54 L296.67,502.10 L298.66,502.64 L300.64,503.19 L302.63,503.72 L304.62,504.24 L306.60,504.76 L308.59,505.27 L310.58,505.76 L312.56,506.26 L314.55,506.74 L316.54,507.22 L318.52,507.68 L320.51,508.14 L322.50,508.60 L324.49,509.04 L326.47,509.48 L328.46,509.90 L330.45,510.33 L332.43,510.74 L334.42,511.15 L336.41,511.54 L338.39,511.93 L340.38,512.32 L342.37,512.69 L344.35,513.06 L346.34,513.42 L348.33,513.78 L350.31,514.12 L352.30,514.46 L354.29,514.79 L356.28,515.12 L358.26,515.43 L360.25,515.74 L362.24,516.05 L364.22,516.34 L366.21,516.63 L368.20,516.91 L370.18,517.19 L372.17,517.46 L374.16,517.72 L376.14,517.97 L378.13,518.22 L380.12,518.46 L382.10,518.70 L384.09,518.92 L386.08,519.14 L388.07,519.36 L390.05,519.57 L392.04,519.77 L394.03,519.96 L396.01,520.15 L398.00,520.33 M399.10,519.30 L400.30,518.40 L400.30,519.25 L402.28,519.50 L404.27,519.76 L406.25,520.01 L408.24,520.25 L410.22,520.49 L412.20,520.73 L414.19,520.96 L416.17,521.19 L418.16,521.41 L420.14,521.63 L422.13,521.84 L424.11,522.06 L426.09,522.26 L428.08,522.47 L430.06,522.67 L432.05,522.86 L434.03,523.05 L436.01,523.24 L438.00,523.42 L439.98,523.60 L441.97,523.78 L443.95,523.95 L445.94,524.12 L447.92,524.29 L449.90,524.45 L451.89,524.61 L453.87,524.77 L455.86,524.92 L457.84,525.07 L459.82,525.21 L461.81,525.36 L463.79,525.49 L465.78,525.63 L467.76,525.76 L469.75,525.89 L471.73,526.02 L473.71,526.14 L475.70,526.26 L477.68,526.38 L479.67,526.49 L481.65,526.61 L483.63,526.71 L485.62,526.82 L487.60,526.92 L489.59,527.02 L491.57,527.12 L493.56,527.22 L495.54,527.31 L497.52,527.40 L499.51,527.49 L501.49,527.57 L503.48,527.65 L505.46,527.73 L507.44,527.81 L509.43,527.89 L511.41,527.96 L513.40,528.03 L515.38,528.10 L517.37,528.16 L519.35,528.23 L521.33,528.29 L523.32,528.35 L525.30,528.41 L527.29,528.46 L529.27,528.51 L531.25,528.57 L533.24,528.61 L535.22,528.66 L537.21,528.71 L539.19,528.75 L541.18,528.79 L543.16,528.83 L545.14,528.87 L547.13,528.90 L549.11,528.94 L551.10,528.97 L553.08,529.00 L555.07,529.03 L557.05,529.05 L559.03,529.08 L561.02,529.10 L563.00,529.12 L564.99,529.14 L566.97,529.16 L568.95,529.18 L570.94,529.19 L572.92,529.21 L574.91,529.22 L576.89,529.23 L578.88,529.24 L580.86,529.25 L582.84,529.25 L584.83,529.26 L586.81,529.26 L588.80,529.26 L590.78,529.26 L592.76,529.26 L594.75,529.26 L596.73,529.26 L598.72,529.26 L600.70,529.25 L602.68,529.24 L604.67,529.24 L606.65,529.23 L608.64,529.22 L610.62,529.21 L612.61,529.19 L614.59,529.18 L616.57,529.17 L618.56,529.15 L620.54,529.14 L622.53,529.12 L624.51,529.10 L626.50,529.08 L628.48,529.07 L630.46,529.05 L632.45,529.02 L634.43,529.00 L636.42,528.98 L638.40,528.96" fill="none" stroke="#7700FF" stroke-width="3.25" stroke-linecap="butt" stroke-linejoin="round" stroke-dasharray="15.9 7.72" clip-path="url(#cb)"/>
</svg>
</body></html>
